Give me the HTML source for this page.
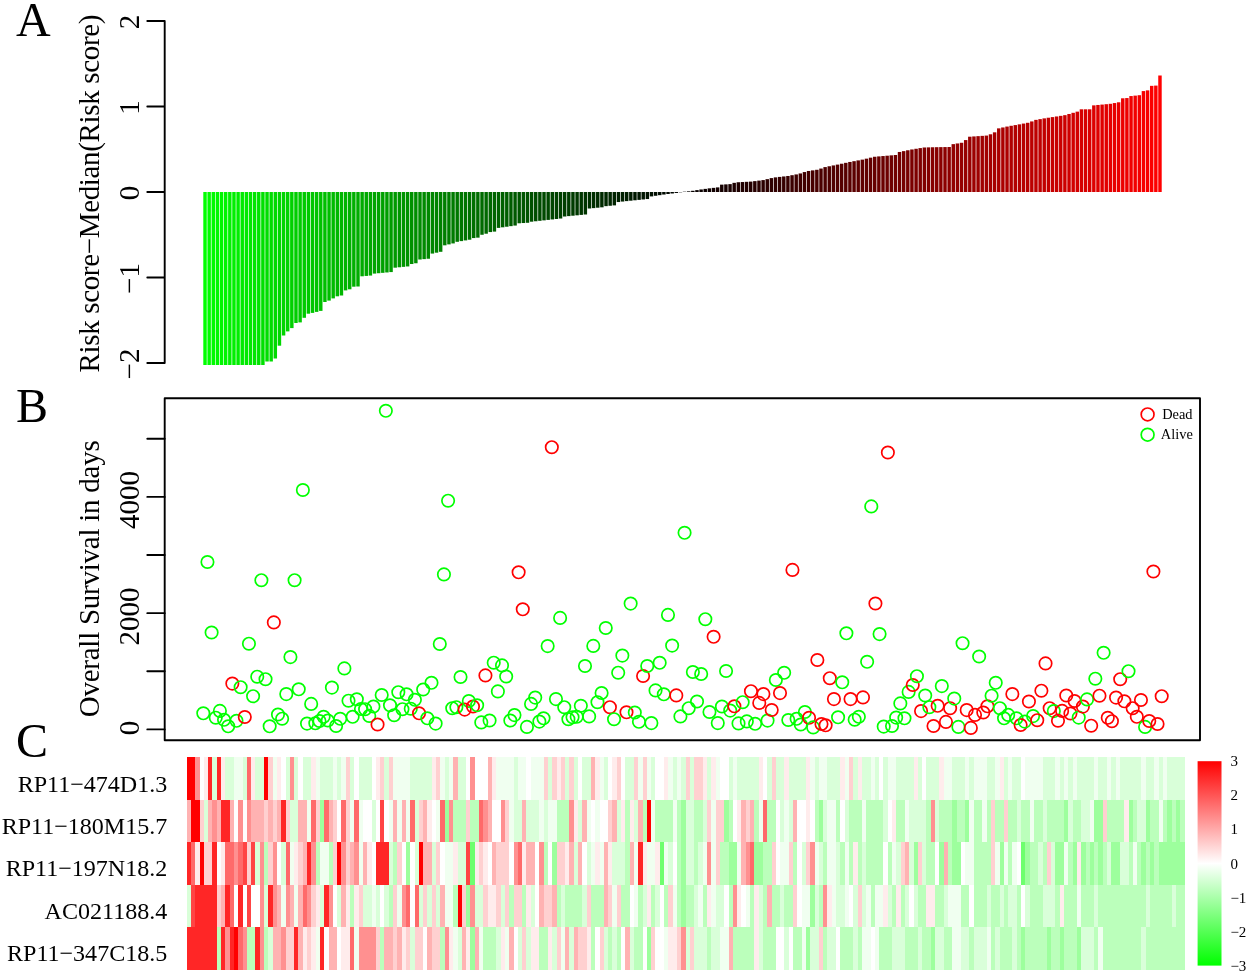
<!DOCTYPE html>
<html lang="en"><head><meta charset="utf-8"><title>Risk score figure</title>
<style>html,body{margin:0;padding:0;background:#fff}svg{display:block}text{font-family:"Liberation Serif","Times New Roman",serif;fill:#000}</style></head>
<body>
<svg width="1250" height="975" viewBox="0 0 1250 975">
<rect width="1250" height="975" fill="#fff"/>
<g id="panelA">
<rect x="203.3" y="192" width="3.45" height="173" fill="#00ff00"/><rect x="207.43" y="192" width="3.45" height="173" fill="#00fd00"/><rect x="211.57" y="192" width="3.45" height="173" fill="#00fb00"/><rect x="215.7" y="192" width="3.45" height="173" fill="#00f800"/><rect x="219.84" y="192" width="3.45" height="173" fill="#00f600"/><rect x="223.97" y="192" width="3.45" height="173" fill="#00f400"/><rect x="228.1" y="192" width="3.45" height="173" fill="#00f200"/><rect x="232.24" y="192" width="3.45" height="173" fill="#00f000"/><rect x="236.37" y="192" width="3.45" height="173" fill="#00ed00"/><rect x="240.51" y="192" width="3.45" height="173" fill="#00eb00"/><rect x="244.64" y="192" width="3.45" height="173" fill="#00e900"/><rect x="248.77" y="192" width="3.45" height="173" fill="#00e700"/><rect x="252.91" y="192" width="3.45" height="173" fill="#00e500"/><rect x="257.04" y="192" width="3.45" height="173" fill="#00e200"/><rect x="261.18" y="192" width="3.45" height="173" fill="#00e000"/><rect x="265.31" y="192" width="3.45" height="169.5" fill="#00de00"/><rect x="269.44" y="192" width="3.45" height="169.5" fill="#00dc00"/><rect x="273.58" y="192" width="3.45" height="166.5" fill="#00d900"/><rect x="277.71" y="192" width="3.45" height="153.7" fill="#00d700"/><rect x="281.85" y="192" width="3.45" height="143.5" fill="#00d500"/><rect x="285.98" y="192" width="3.45" height="139.4" fill="#00d300"/><rect x="290.11" y="192" width="3.45" height="136.1" fill="#00d100"/><rect x="294.25" y="192" width="3.45" height="131" fill="#00ce00"/><rect x="298.38" y="192" width="3.45" height="130.4" fill="#00cc00"/><rect x="302.52" y="192" width="3.45" height="125.8" fill="#00ca00"/><rect x="306.65" y="192" width="3.45" height="121.7" fill="#00c800"/><rect x="310.78" y="192" width="3.45" height="120.9" fill="#00c600"/><rect x="314.92" y="192" width="3.45" height="119.9" fill="#00c300"/><rect x="319.05" y="192" width="3.45" height="118.9" fill="#00c100"/><rect x="323.19" y="192" width="3.45" height="110" fill="#00bf00"/><rect x="327.32" y="192" width="3.45" height="108.6" fill="#00bd00"/><rect x="331.45" y="192" width="3.45" height="106.4" fill="#00bb00"/><rect x="335.59" y="192" width="3.45" height="104.3" fill="#00b800"/><rect x="339.72" y="192" width="3.45" height="103.5" fill="#00b600"/><rect x="343.86" y="192" width="3.45" height="98.4" fill="#00b400"/><rect x="347.99" y="192" width="3.45" height="97.3" fill="#00b200"/><rect x="352.12" y="192" width="3.45" height="94.7" fill="#00b000"/><rect x="356.26" y="192" width="3.45" height="94.5" fill="#00ad00"/><rect x="360.39" y="192" width="3.45" height="84.29" fill="#00ab00"/><rect x="364.53" y="192" width="3.45" height="83.93" fill="#00a900"/><rect x="368.66" y="192" width="3.45" height="83.56" fill="#00a700"/><rect x="372.79" y="192" width="3.45" height="81.6" fill="#00a400"/><rect x="376.93" y="192" width="3.45" height="81.22" fill="#00a200"/><rect x="381.06" y="192" width="3.45" height="80.84" fill="#00a000"/><rect x="385.2" y="192" width="3.45" height="80.46" fill="#009e00"/><rect x="389.33" y="192" width="3.45" height="80.08" fill="#009c00"/><rect x="393.46" y="192" width="3.45" height="75.69" fill="#009900"/><rect x="397.6" y="192" width="3.45" height="75.27" fill="#009700"/><rect x="401.73" y="192" width="3.45" height="74.86" fill="#009500"/><rect x="405.87" y="192" width="3.45" height="74.44" fill="#009300"/><rect x="410" y="192" width="3.45" height="72.02" fill="#009100"/><rect x="414.13" y="192" width="3.45" height="71.26" fill="#008e00"/><rect x="418.27" y="192" width="3.45" height="67.51" fill="#008c00"/><rect x="422.4" y="192" width="3.45" height="67.12" fill="#008a00"/><rect x="426.54" y="192" width="3.45" height="66.74" fill="#008800"/><rect x="430.67" y="192" width="3.45" height="61.57" fill="#008600"/><rect x="434.8" y="192" width="3.45" height="60.69" fill="#008300"/><rect x="438.94" y="192" width="3.45" height="59.81" fill="#008100"/><rect x="443.07" y="192" width="3.45" height="53.32" fill="#007f00"/><rect x="447.21" y="192" width="3.45" height="52.38" fill="#007d00"/><rect x="451.34" y="192" width="3.45" height="51.43" fill="#007b00"/><rect x="455.47" y="192" width="3.45" height="49.81" fill="#007800"/><rect x="459.61" y="192" width="3.45" height="49.11" fill="#007600"/><rect x="463.74" y="192" width="3.45" height="48.41" fill="#007400"/><rect x="467.88" y="192" width="3.45" height="47.71" fill="#007200"/><rect x="472.01" y="192" width="3.45" height="46.07" fill="#006f00"/><rect x="476.14" y="192" width="3.45" height="45.66" fill="#006d00"/><rect x="480.28" y="192" width="3.45" height="42.77" fill="#006b00"/><rect x="484.41" y="192" width="3.45" height="41.72" fill="#006900"/><rect x="488.55" y="192" width="3.45" height="40.07" fill="#006700"/><rect x="492.68" y="192" width="3.45" height="39.6" fill="#006400"/><rect x="496.81" y="192" width="3.45" height="35.89" fill="#006200"/><rect x="500.95" y="192" width="3.45" height="35.31" fill="#006000"/><rect x="505.08" y="192" width="3.45" height="34.73" fill="#005e00"/><rect x="509.22" y="192" width="3.45" height="34.15" fill="#005c00"/><rect x="513.35" y="192" width="3.45" height="33.57" fill="#005900"/><rect x="517.48" y="192" width="3.45" height="31.28" fill="#005700"/><rect x="521.62" y="192" width="3.45" height="31.03" fill="#005500"/><rect x="525.75" y="192" width="3.45" height="30.79" fill="#005300"/><rect x="529.89" y="192" width="3.45" height="29.7" fill="#005100"/><rect x="534.02" y="192" width="3.45" height="29.26" fill="#004e00"/><rect x="538.15" y="192" width="3.45" height="28.81" fill="#004c00"/><rect x="542.29" y="192" width="3.45" height="28.35" fill="#004a00"/><rect x="546.42" y="192" width="3.45" height="27.9" fill="#004800"/><rect x="550.56" y="192" width="3.45" height="27.44" fill="#004600"/><rect x="554.69" y="192" width="3.45" height="26.98" fill="#004300"/><rect x="558.82" y="192" width="3.45" height="26.52" fill="#004100"/><rect x="562.96" y="192" width="3.45" height="24.51" fill="#003f00"/><rect x="567.09" y="192" width="3.45" height="24.11" fill="#003d00"/><rect x="571.23" y="192" width="3.45" height="23.71" fill="#003b00"/><rect x="575.36" y="192" width="3.45" height="23.31" fill="#003800"/><rect x="579.49" y="192" width="3.45" height="22.9" fill="#003600"/><rect x="583.63" y="192" width="3.45" height="22.5" fill="#003400"/><rect x="587.76" y="192" width="3.45" height="16.51" fill="#003200"/><rect x="591.9" y="192" width="3.45" height="16.12" fill="#002f00"/><rect x="596.03" y="192" width="3.45" height="15.72" fill="#002d00"/><rect x="600.16" y="192" width="3.45" height="15.33" fill="#002b00"/><rect x="604.3" y="192" width="3.45" height="14.15" fill="#002900"/><rect x="608.43" y="192" width="3.45" height="13.77" fill="#002700"/><rect x="612.57" y="192" width="3.45" height="13.38" fill="#002400"/><rect x="616.7" y="192" width="3.45" height="10.04" fill="#002200"/><rect x="620.83" y="192" width="3.45" height="9.56" fill="#002000"/><rect x="624.97" y="192" width="3.45" height="9.11" fill="#001e00"/><rect x="629.1" y="192" width="3.45" height="8.7" fill="#001c00"/><rect x="633.24" y="192" width="3.45" height="8.28" fill="#001900"/><rect x="637.37" y="192" width="3.45" height="7.87" fill="#001700"/><rect x="641.5" y="192" width="3.45" height="7.46" fill="#001500"/><rect x="645.64" y="192" width="3.45" height="7.04" fill="#001300"/><rect x="649.77" y="192" width="3.45" height="4.41" fill="#001100"/><rect x="653.91" y="192" width="3.45" height="3.78" fill="#000e00"/><rect x="658.04" y="192" width="3.45" height="3.16" fill="#000c00"/><rect x="662.17" y="192" width="3.45" height="2.54" fill="#000a00"/><rect x="666.31" y="192" width="3.45" height="2" fill="#000800"/><rect x="670.44" y="192" width="3.45" height="1.48" fill="#000600"/><rect x="674.58" y="192" width="3.45" height="0.96" fill="#000300"/><rect x="678.71" y="192" width="3.45" height="0.3" fill="#000100"/><rect x="682.84" y="191.69" width="3.45" height="0.31" fill="#010000"/><rect x="686.98" y="191.34" width="3.45" height="0.66" fill="#030000"/><rect x="691.11" y="190.79" width="3.45" height="1.21" fill="#060000"/><rect x="695.25" y="190.11" width="3.45" height="1.89" fill="#080000"/><rect x="699.38" y="189.45" width="3.45" height="2.55" fill="#0a0000"/><rect x="703.51" y="188.88" width="3.45" height="3.12" fill="#0c0000"/><rect x="707.65" y="188.34" width="3.45" height="3.66" fill="#0e0000"/><rect x="711.78" y="187.86" width="3.45" height="4.14" fill="#110000"/><rect x="715.92" y="187.38" width="3.45" height="4.62" fill="#130000"/><rect x="720.05" y="184.64" width="3.45" height="7.36" fill="#150000"/><rect x="724.18" y="184.38" width="3.45" height="7.62" fill="#170000"/><rect x="728.32" y="184.12" width="3.45" height="7.88" fill="#190000"/><rect x="732.45" y="182.84" width="3.45" height="9.16" fill="#1c0000"/><rect x="736.59" y="182.23" width="3.45" height="9.77" fill="#1e0000"/><rect x="740.72" y="182.03" width="3.45" height="9.97" fill="#200000"/><rect x="744.85" y="181.82" width="3.45" height="10.18" fill="#220000"/><rect x="748.99" y="181.61" width="3.45" height="10.39" fill="#240000"/><rect x="753.12" y="181.12" width="3.45" height="10.88" fill="#270000"/><rect x="757.26" y="180.6" width="3.45" height="11.4" fill="#290000"/><rect x="761.39" y="180.09" width="3.45" height="11.91" fill="#2b0000"/><rect x="765.52" y="179.14" width="3.45" height="12.86" fill="#2d0000"/><rect x="769.66" y="178.1" width="3.45" height="13.9" fill="#2f0000"/><rect x="773.79" y="177.36" width="3.45" height="14.64" fill="#320000"/><rect x="777.93" y="176.91" width="3.45" height="15.09" fill="#340000"/><rect x="782.06" y="176.45" width="3.45" height="15.55" fill="#360000"/><rect x="786.19" y="175.98" width="3.45" height="16.02" fill="#380000"/><rect x="790.33" y="175.2" width="3.45" height="16.8" fill="#3b0000"/><rect x="794.46" y="174.43" width="3.45" height="17.57" fill="#3d0000"/><rect x="798.6" y="173.45" width="3.45" height="18.55" fill="#3f0000"/><rect x="802.73" y="172.06" width="3.45" height="19.94" fill="#410000"/><rect x="806.86" y="170.97" width="3.45" height="21.03" fill="#430000"/><rect x="811" y="170.38" width="3.45" height="21.62" fill="#460000"/><rect x="815.13" y="169.79" width="3.45" height="22.21" fill="#480000"/><rect x="819.27" y="168.55" width="3.45" height="23.45" fill="#4a0000"/><rect x="823.4" y="167.09" width="3.45" height="24.91" fill="#4c0000"/><rect x="827.53" y="166.26" width="3.45" height="25.74" fill="#4e0000"/><rect x="831.67" y="165.43" width="3.45" height="26.57" fill="#510000"/><rect x="835.8" y="164.6" width="3.45" height="27.4" fill="#530000"/><rect x="839.94" y="163.73" width="3.45" height="28.27" fill="#550000"/><rect x="844.07" y="162.84" width="3.45" height="29.16" fill="#570000"/><rect x="848.2" y="161.96" width="3.45" height="30.04" fill="#590000"/><rect x="852.34" y="161.18" width="3.45" height="30.82" fill="#5c0000"/><rect x="856.47" y="160.4" width="3.45" height="31.6" fill="#5e0000"/><rect x="860.61" y="159.63" width="3.45" height="32.37" fill="#600000"/><rect x="864.74" y="158.67" width="3.45" height="33.33" fill="#620000"/><rect x="868.87" y="157.67" width="3.45" height="34.33" fill="#640000"/><rect x="873.01" y="156.75" width="3.45" height="35.25" fill="#670000"/><rect x="877.14" y="156.4" width="3.45" height="35.6" fill="#690000"/><rect x="881.28" y="156.05" width="3.45" height="35.95" fill="#6b0000"/><rect x="885.41" y="155.7" width="3.45" height="36.3" fill="#6d0000"/><rect x="889.54" y="155.35" width="3.45" height="36.65" fill="#6f0000"/><rect x="893.68" y="155" width="3.45" height="37" fill="#720000"/><rect x="897.81" y="151.97" width="3.45" height="40.03" fill="#740000"/><rect x="901.95" y="151.12" width="3.45" height="40.88" fill="#760000"/><rect x="906.08" y="150.26" width="3.45" height="41.74" fill="#780000"/><rect x="910.21" y="149.45" width="3.45" height="42.55" fill="#7b0000"/><rect x="914.35" y="148.77" width="3.45" height="43.23" fill="#7d0000"/><rect x="918.48" y="148.09" width="3.45" height="43.91" fill="#7f0000"/><rect x="922.62" y="147.49" width="3.45" height="44.51" fill="#810000"/><rect x="926.75" y="147.37" width="3.45" height="44.63" fill="#830000"/><rect x="930.88" y="147.26" width="3.45" height="44.74" fill="#860000"/><rect x="935.02" y="147.18" width="3.45" height="44.82" fill="#880000"/><rect x="939.15" y="147.12" width="3.45" height="44.88" fill="#8a0000"/><rect x="943.29" y="147.07" width="3.45" height="44.93" fill="#8c0000"/><rect x="947.42" y="147.01" width="3.45" height="44.99" fill="#8e0000"/><rect x="951.55" y="144.14" width="3.45" height="47.86" fill="#910000"/><rect x="955.69" y="143.46" width="3.45" height="48.54" fill="#930000"/><rect x="959.82" y="142.77" width="3.45" height="49.23" fill="#950000"/><rect x="963.96" y="140.08" width="3.45" height="51.92" fill="#970000"/><rect x="968.09" y="136.7" width="3.45" height="55.3" fill="#990000"/><rect x="972.22" y="136.42" width="3.45" height="55.58" fill="#9c0000"/><rect x="976.36" y="136.14" width="3.45" height="55.86" fill="#9e0000"/><rect x="980.49" y="135.86" width="3.45" height="56.14" fill="#a00000"/><rect x="984.63" y="135.58" width="3.45" height="56.42" fill="#a20000"/><rect x="988.76" y="134.29" width="3.45" height="57.71" fill="#a40000"/><rect x="992.89" y="132.33" width="3.45" height="59.67" fill="#a70000"/><rect x="997.03" y="128.36" width="3.45" height="63.64" fill="#a90000"/><rect x="1001.16" y="127.46" width="3.45" height="64.54" fill="#ab0000"/><rect x="1005.3" y="126.57" width="3.45" height="65.43" fill="#ad0000"/><rect x="1009.43" y="125.79" width="3.45" height="66.21" fill="#b00000"/><rect x="1013.56" y="125.09" width="3.45" height="66.91" fill="#b20000"/><rect x="1017.7" y="124.34" width="3.45" height="67.66" fill="#b40000"/><rect x="1021.83" y="123.57" width="3.45" height="68.43" fill="#b60000"/><rect x="1025.97" y="122.79" width="3.45" height="69.21" fill="#b80000"/><rect x="1030.1" y="121.43" width="3.45" height="70.57" fill="#bb0000"/><rect x="1034.23" y="119.86" width="3.45" height="72.14" fill="#bd0000"/><rect x="1038.37" y="119.12" width="3.45" height="72.88" fill="#bf0000"/><rect x="1042.5" y="118.37" width="3.45" height="73.63" fill="#c10000"/><rect x="1046.64" y="117.72" width="3.45" height="74.28" fill="#c30000"/><rect x="1050.77" y="117.1" width="3.45" height="74.9" fill="#c60000"/><rect x="1054.9" y="116.47" width="3.45" height="75.53" fill="#c80000"/><rect x="1059.04" y="115.85" width="3.45" height="76.15" fill="#ca0000"/><rect x="1063.17" y="115.16" width="3.45" height="76.84" fill="#cc0000"/><rect x="1067.31" y="113.99" width="3.45" height="78.01" fill="#ce0000"/><rect x="1071.44" y="112.81" width="3.45" height="79.19" fill="#d10000"/><rect x="1075.57" y="111.64" width="3.45" height="80.36" fill="#d30000"/><rect x="1079.71" y="109.3" width="3.45" height="82.7" fill="#d50000"/><rect x="1083.84" y="109.3" width="3.45" height="82.7" fill="#d70000"/><rect x="1087.98" y="109.3" width="3.45" height="82.7" fill="#d90000"/><rect x="1092.11" y="105.36" width="3.45" height="86.64" fill="#dc0000"/><rect x="1096.24" y="104.97" width="3.45" height="87.03" fill="#de0000"/><rect x="1100.38" y="104.58" width="3.45" height="87.42" fill="#e00000"/><rect x="1104.51" y="104.2" width="3.45" height="87.8" fill="#e20000"/><rect x="1108.65" y="103.81" width="3.45" height="88.19" fill="#e50000"/><rect x="1112.78" y="103.06" width="3.45" height="88.94" fill="#e70000"/><rect x="1116.91" y="102.29" width="3.45" height="89.71" fill="#e90000"/><rect x="1121.05" y="98.3" width="3.45" height="93.7" fill="#eb0000"/><rect x="1125.18" y="98.05" width="3.45" height="93.95" fill="#ed0000"/><rect x="1129.32" y="96.05" width="3.45" height="95.95" fill="#f00000"/><rect x="1133.45" y="95.63" width="3.45" height="96.37" fill="#f20000"/><rect x="1137.58" y="95.2" width="3.45" height="96.8" fill="#f40000"/><rect x="1141.72" y="91.08" width="3.45" height="100.92" fill="#f60000"/><rect x="1145.85" y="90.36" width="3.45" height="101.64" fill="#f80000"/><rect x="1149.99" y="85.85" width="3.45" height="106.15" fill="#fb0000"/><rect x="1154.12" y="85.6" width="3.45" height="106.4" fill="#fd0000"/><rect x="1158.25" y="75.5" width="3.45" height="116.5" fill="#ff0000"/>
<g stroke="#000" stroke-width="1.9" stroke-linecap="round" stroke-linejoin="round" fill="none"><path d="M164.7 21V363M164.7 363H147.3M164.7 277.5H147.3M164.7 192H147.3M164.7 106.5H147.3M164.7 21H147.3"/></g>
<text font-size="29" text-anchor="middle" transform="translate(138.6 364) rotate(-90)">−2</text><text font-size="29" text-anchor="middle" transform="translate(138.6 278.5) rotate(-90)">−1</text><text font-size="29" text-anchor="middle" transform="translate(138.6 193) rotate(-90)">0</text><text font-size="29" text-anchor="middle" transform="translate(138.6 107.5) rotate(-90)">1</text><text font-size="29" text-anchor="middle" transform="translate(138.6 22) rotate(-90)">2</text>
<text font-size="29" text-anchor="middle" textLength="358" transform="translate(98.8 193.5) rotate(-90)">Risk score−Median(Risk score)</text>
<text font-size="48" x="16.1" y="35.5">A</text>
</g>
<g id="panelB">
<g stroke="#000" stroke-width="1.9" stroke-linecap="round" stroke-linejoin="round" fill="none"><rect x="164.7" y="398.3" width="1035.3" height="341.9"/><path d="M164.7 729.4H147.3M164.7 671.28H147.3M164.7 613.16H147.3M164.7 555.04H147.3M164.7 496.92H147.3M164.7 438.8H147.3"/></g>
<text font-size="29" text-anchor="middle" transform="translate(138.6 728) rotate(-90)">0</text><text font-size="29" text-anchor="middle" transform="translate(138.6 616.56) rotate(-90)">2000</text><text font-size="29" text-anchor="middle" transform="translate(138.6 500.02) rotate(-90)">4000</text>
<text font-size="29" text-anchor="middle" textLength="277" transform="translate(98.8 578.8) rotate(-90)">Overall Survival in days</text>
<text font-size="48" x="16.1" y="421.8">B</text>
<g fill="none" stroke-width="1.7">
<circle cx="203.3" cy="713.3" r="6.2" stroke="#0f0"/><circle cx="207.45" cy="562" r="6.2" stroke="#0f0"/><circle cx="211.6" cy="632.5" r="6.2" stroke="#0f0"/><circle cx="215.75" cy="717.7" r="6.2" stroke="#0f0"/><circle cx="219.9" cy="710.9" r="6.2" stroke="#0f0"/><circle cx="224.04" cy="719.8" r="6.2" stroke="#0f0"/><circle cx="228.19" cy="726.3" r="6.2" stroke="#0f0"/><circle cx="232.34" cy="683.6" r="6.2" stroke="#f00"/><circle cx="236.49" cy="720.8" r="6.2" stroke="#0f0"/><circle cx="240.64" cy="687.2" r="6.2" stroke="#0f0"/><circle cx="244.79" cy="717" r="6.2" stroke="#f00"/><circle cx="248.94" cy="643.7" r="6.2" stroke="#0f0"/><circle cx="253.09" cy="696.2" r="6.2" stroke="#0f0"/><circle cx="257.24" cy="676.7" r="6.2" stroke="#0f0"/><circle cx="261.38" cy="580.2" r="6.2" stroke="#0f0"/><circle cx="265.53" cy="679.2" r="6.2" stroke="#0f0"/><circle cx="269.68" cy="726.3" r="6.2" stroke="#0f0"/><circle cx="273.83" cy="622.4" r="6.2" stroke="#f00"/><circle cx="277.98" cy="714.5" r="6.2" stroke="#0f0"/><circle cx="282.13" cy="718.7" r="6.2" stroke="#0f0"/><circle cx="286.28" cy="694.1" r="6.2" stroke="#0f0"/><circle cx="290.43" cy="657.1" r="6.2" stroke="#0f0"/><circle cx="294.58" cy="580.2" r="6.2" stroke="#0f0"/><circle cx="298.73" cy="689.3" r="6.2" stroke="#0f0"/><circle cx="302.87" cy="490" r="6.2" stroke="#0f0"/><circle cx="307.02" cy="723.6" r="6.2" stroke="#0f0"/><circle cx="311.17" cy="703.9" r="6.2" stroke="#0f0"/><circle cx="315.32" cy="723.3" r="6.2" stroke="#0f0"/><circle cx="319.47" cy="721" r="6.2" stroke="#0f0"/><circle cx="323.62" cy="716.8" r="6.2" stroke="#0f0"/><circle cx="327.77" cy="720.5" r="6.2" stroke="#0f0"/><circle cx="331.92" cy="687.6" r="6.2" stroke="#0f0"/><circle cx="336.07" cy="726" r="6.2" stroke="#0f0"/><circle cx="340.21" cy="718.8" r="6.2" stroke="#0f0"/><circle cx="344.36" cy="668.4" r="6.2" stroke="#0f0"/><circle cx="348.51" cy="700.7" r="6.2" stroke="#0f0"/><circle cx="352.66" cy="716.8" r="6.2" stroke="#0f0"/><circle cx="356.81" cy="699.3" r="6.2" stroke="#0f0"/><circle cx="360.96" cy="709" r="6.2" stroke="#0f0"/><circle cx="365.11" cy="709.2" r="6.2" stroke="#0f0"/><circle cx="369.26" cy="715.9" r="6.2" stroke="#0f0"/><circle cx="373.41" cy="706.5" r="6.2" stroke="#0f0"/><circle cx="377.55" cy="724.5" r="6.2" stroke="#f00"/><circle cx="381.7" cy="695" r="6.2" stroke="#0f0"/><circle cx="385.85" cy="410.8" r="6.2" stroke="#0f0"/><circle cx="390" cy="705.3" r="6.2" stroke="#0f0"/><circle cx="394.15" cy="715.2" r="6.2" stroke="#0f0"/><circle cx="398.3" cy="692.2" r="6.2" stroke="#0f0"/><circle cx="402.45" cy="709.2" r="6.2" stroke="#0f0"/><circle cx="406.6" cy="694.3" r="6.2" stroke="#0f0"/><circle cx="410.75" cy="708.7" r="6.2" stroke="#0f0"/><circle cx="414.89" cy="699.8" r="6.2" stroke="#0f0"/><circle cx="419.04" cy="713.3" r="6.2" stroke="#f00"/><circle cx="423.19" cy="689.5" r="6.2" stroke="#0f0"/><circle cx="427.34" cy="718.3" r="6.2" stroke="#0f0"/><circle cx="431.49" cy="682.8" r="6.2" stroke="#0f0"/><circle cx="435.64" cy="723.6" r="6.2" stroke="#0f0"/><circle cx="439.79" cy="644" r="6.2" stroke="#0f0"/><circle cx="443.94" cy="574.4" r="6.2" stroke="#0f0"/><circle cx="448.09" cy="500.7" r="6.2" stroke="#0f0"/><circle cx="452.24" cy="708.2" r="6.2" stroke="#0f0"/><circle cx="456.38" cy="707.2" r="6.2" stroke="#0f0"/><circle cx="460.53" cy="677" r="6.2" stroke="#0f0"/><circle cx="464.68" cy="709.6" r="6.2" stroke="#f00"/><circle cx="468.83" cy="701" r="6.2" stroke="#0f0"/><circle cx="472.98" cy="706.5" r="6.2" stroke="#f00"/><circle cx="477.13" cy="705.3" r="6.2" stroke="#0f0"/><circle cx="481.28" cy="722.4" r="6.2" stroke="#0f0"/><circle cx="485.43" cy="675.4" r="6.2" stroke="#f00"/><circle cx="489.58" cy="720.5" r="6.2" stroke="#0f0"/><circle cx="493.72" cy="662.7" r="6.2" stroke="#0f0"/><circle cx="497.87" cy="691.4" r="6.2" stroke="#0f0"/><circle cx="502.02" cy="665.4" r="6.2" stroke="#0f0"/><circle cx="506.17" cy="676.5" r="6.2" stroke="#0f0"/><circle cx="510.32" cy="720.5" r="6.2" stroke="#0f0"/><circle cx="514.47" cy="715.1" r="6.2" stroke="#0f0"/><circle cx="518.62" cy="572.3" r="6.2" stroke="#f00"/><circle cx="522.77" cy="609.3" r="6.2" stroke="#f00"/><circle cx="526.92" cy="726.9" r="6.2" stroke="#0f0"/><circle cx="531.06" cy="703.9" r="6.2" stroke="#0f0"/><circle cx="535.21" cy="697.6" r="6.2" stroke="#0f0"/><circle cx="539.36" cy="721.6" r="6.2" stroke="#0f0"/><circle cx="543.51" cy="718.3" r="6.2" stroke="#0f0"/><circle cx="547.66" cy="646.1" r="6.2" stroke="#0f0"/><circle cx="551.81" cy="447.2" r="6.2" stroke="#f00"/><circle cx="555.96" cy="699.1" r="6.2" stroke="#0f0"/><circle cx="560.11" cy="617.9" r="6.2" stroke="#0f0"/><circle cx="564.26" cy="707.2" r="6.2" stroke="#0f0"/><circle cx="568.4" cy="719.2" r="6.2" stroke="#0f0"/><circle cx="572.55" cy="717.3" r="6.2" stroke="#0f0"/><circle cx="576.7" cy="716.8" r="6.2" stroke="#0f0"/><circle cx="580.85" cy="705.8" r="6.2" stroke="#0f0"/><circle cx="585" cy="666" r="6.2" stroke="#0f0"/><circle cx="589.15" cy="716.4" r="6.2" stroke="#0f0"/><circle cx="593.3" cy="645.9" r="6.2" stroke="#0f0"/><circle cx="597.45" cy="702.2" r="6.2" stroke="#0f0"/><circle cx="601.6" cy="693" r="6.2" stroke="#0f0"/><circle cx="605.75" cy="628" r="6.2" stroke="#0f0"/><circle cx="609.89" cy="707.2" r="6.2" stroke="#f00"/><circle cx="614.04" cy="719.2" r="6.2" stroke="#0f0"/><circle cx="618.19" cy="672.7" r="6.2" stroke="#0f0"/><circle cx="622.34" cy="655.6" r="6.2" stroke="#0f0"/><circle cx="626.49" cy="712.3" r="6.2" stroke="#f00"/><circle cx="630.64" cy="603.6" r="6.2" stroke="#0f0"/><circle cx="634.79" cy="712.5" r="6.2" stroke="#0f0"/><circle cx="638.94" cy="721.8" r="6.2" stroke="#0f0"/><circle cx="643.09" cy="676" r="6.2" stroke="#f00"/><circle cx="647.23" cy="666" r="6.2" stroke="#0f0"/><circle cx="651.38" cy="723.1" r="6.2" stroke="#0f0"/><circle cx="655.53" cy="690.4" r="6.2" stroke="#0f0"/><circle cx="659.68" cy="662.8" r="6.2" stroke="#0f0"/><circle cx="663.83" cy="694.3" r="6.2" stroke="#0f0"/><circle cx="667.98" cy="614.9" r="6.2" stroke="#0f0"/><circle cx="672.13" cy="645.6" r="6.2" stroke="#0f0"/><circle cx="676.28" cy="695.4" r="6.2" stroke="#f00"/><circle cx="680.43" cy="716.4" r="6.2" stroke="#0f0"/><circle cx="684.57" cy="532.8" r="6.2" stroke="#0f0"/><circle cx="688.72" cy="708.2" r="6.2" stroke="#0f0"/><circle cx="692.87" cy="672" r="6.2" stroke="#0f0"/><circle cx="697.02" cy="701.5" r="6.2" stroke="#0f0"/><circle cx="701.17" cy="674" r="6.2" stroke="#0f0"/><circle cx="705.32" cy="619.2" r="6.2" stroke="#0f0"/><circle cx="709.47" cy="712" r="6.2" stroke="#0f0"/><circle cx="713.62" cy="636.8" r="6.2" stroke="#f00"/><circle cx="717.77" cy="723.1" r="6.2" stroke="#0f0"/><circle cx="721.91" cy="706.5" r="6.2" stroke="#0f0"/><circle cx="726.06" cy="671" r="6.2" stroke="#0f0"/><circle cx="730.21" cy="710.6" r="6.2" stroke="#0f0"/><circle cx="734.36" cy="706.3" r="6.2" stroke="#f00"/><circle cx="738.51" cy="723.4" r="6.2" stroke="#0f0"/><circle cx="742.66" cy="702.2" r="6.2" stroke="#0f0"/><circle cx="746.81" cy="721.4" r="6.2" stroke="#0f0"/><circle cx="750.96" cy="691.2" r="6.2" stroke="#f00"/><circle cx="755.11" cy="723.8" r="6.2" stroke="#0f0"/><circle cx="759.25" cy="702.9" r="6.2" stroke="#f00"/><circle cx="763.4" cy="694.1" r="6.2" stroke="#f00"/><circle cx="767.55" cy="720.6" r="6.2" stroke="#0f0"/><circle cx="771.7" cy="710" r="6.2" stroke="#f00"/><circle cx="775.85" cy="680" r="6.2" stroke="#0f0"/><circle cx="780" cy="693.1" r="6.2" stroke="#f00"/><circle cx="784.15" cy="672.8" r="6.2" stroke="#0f0"/><circle cx="788.3" cy="720" r="6.2" stroke="#0f0"/><circle cx="792.45" cy="569.9" r="6.2" stroke="#f00"/><circle cx="796.6" cy="718.8" r="6.2" stroke="#0f0"/><circle cx="800.74" cy="724.5" r="6.2" stroke="#0f0"/><circle cx="804.89" cy="712" r="6.2" stroke="#0f0"/><circle cx="809.04" cy="717.8" r="6.2" stroke="#f00"/><circle cx="813.19" cy="727.4" r="6.2" stroke="#0f0"/><circle cx="817.34" cy="660" r="6.2" stroke="#f00"/><circle cx="821.49" cy="724" r="6.2" stroke="#f00"/><circle cx="825.64" cy="725.3" r="6.2" stroke="#f00"/><circle cx="829.79" cy="678.2" r="6.2" stroke="#f00"/><circle cx="833.94" cy="699.1" r="6.2" stroke="#f00"/><circle cx="838.08" cy="717.3" r="6.2" stroke="#0f0"/><circle cx="842.23" cy="682.3" r="6.2" stroke="#0f0"/><circle cx="846.38" cy="633.3" r="6.2" stroke="#0f0"/><circle cx="850.53" cy="699.1" r="6.2" stroke="#f00"/><circle cx="854.68" cy="719.7" r="6.2" stroke="#0f0"/><circle cx="858.83" cy="716.8" r="6.2" stroke="#0f0"/><circle cx="862.98" cy="697.4" r="6.2" stroke="#f00"/><circle cx="867.13" cy="661.8" r="6.2" stroke="#0f0"/><circle cx="871.28" cy="506.4" r="6.2" stroke="#0f0"/><circle cx="875.42" cy="603.5" r="6.2" stroke="#f00"/><circle cx="879.57" cy="634.1" r="6.2" stroke="#0f0"/><circle cx="883.72" cy="726.6" r="6.2" stroke="#0f0"/><circle cx="887.87" cy="452.5" r="6.2" stroke="#f00"/><circle cx="892.02" cy="726" r="6.2" stroke="#0f0"/><circle cx="896.17" cy="717.6" r="6.2" stroke="#0f0"/><circle cx="900.32" cy="703.4" r="6.2" stroke="#0f0"/><circle cx="904.47" cy="718.3" r="6.2" stroke="#0f0"/><circle cx="908.62" cy="691.9" r="6.2" stroke="#0f0"/><circle cx="912.76" cy="685" r="6.2" stroke="#f00"/><circle cx="916.91" cy="676.2" r="6.2" stroke="#0f0"/><circle cx="921.06" cy="711.1" r="6.2" stroke="#f00"/><circle cx="925.21" cy="695.5" r="6.2" stroke="#0f0"/><circle cx="929.36" cy="707.2" r="6.2" stroke="#0f0"/><circle cx="933.51" cy="726" r="6.2" stroke="#f00"/><circle cx="937.66" cy="705.8" r="6.2" stroke="#f00"/><circle cx="941.81" cy="686.1" r="6.2" stroke="#0f0"/><circle cx="945.96" cy="721.9" r="6.2" stroke="#f00"/><circle cx="950.11" cy="708.2" r="6.2" stroke="#f00"/><circle cx="954.25" cy="698.6" r="6.2" stroke="#0f0"/><circle cx="958.4" cy="726.9" r="6.2" stroke="#0f0"/><circle cx="962.55" cy="643.2" r="6.2" stroke="#0f0"/><circle cx="966.7" cy="710.1" r="6.2" stroke="#f00"/><circle cx="970.85" cy="727.9" r="6.2" stroke="#f00"/><circle cx="975" cy="714.9" r="6.2" stroke="#f00"/><circle cx="979.15" cy="656.5" r="6.2" stroke="#0f0"/><circle cx="983.3" cy="712.5" r="6.2" stroke="#f00"/><circle cx="987.45" cy="706.3" r="6.2" stroke="#f00"/><circle cx="991.59" cy="695.7" r="6.2" stroke="#0f0"/><circle cx="995.74" cy="682.8" r="6.2" stroke="#0f0"/><circle cx="999.89" cy="708.2" r="6.2" stroke="#0f0"/><circle cx="1004.04" cy="718.3" r="6.2" stroke="#0f0"/><circle cx="1008.19" cy="714.9" r="6.2" stroke="#0f0"/><circle cx="1012.34" cy="694.1" r="6.2" stroke="#f00"/><circle cx="1016.49" cy="718.3" r="6.2" stroke="#0f0"/><circle cx="1020.64" cy="725" r="6.2" stroke="#f00"/><circle cx="1024.79" cy="721.6" r="6.2" stroke="#0f0"/><circle cx="1028.93" cy="701.5" r="6.2" stroke="#f00"/><circle cx="1033.08" cy="716.1" r="6.2" stroke="#0f0"/><circle cx="1037.23" cy="720.2" r="6.2" stroke="#f00"/><circle cx="1041.38" cy="690.7" r="6.2" stroke="#f00"/><circle cx="1045.53" cy="663.4" r="6.2" stroke="#f00"/><circle cx="1049.68" cy="708.2" r="6.2" stroke="#f00"/><circle cx="1053.83" cy="711.1" r="6.2" stroke="#0f0"/><circle cx="1057.98" cy="720.7" r="6.2" stroke="#f00"/><circle cx="1062.13" cy="710.9" r="6.2" stroke="#f00"/><circle cx="1066.27" cy="695.5" r="6.2" stroke="#f00"/><circle cx="1070.42" cy="713.5" r="6.2" stroke="#f00"/><circle cx="1074.57" cy="701" r="6.2" stroke="#f00"/><circle cx="1078.72" cy="717.6" r="6.2" stroke="#0f0"/><circle cx="1082.87" cy="706.6" r="6.2" stroke="#f00"/><circle cx="1087.02" cy="699.4" r="6.2" stroke="#0f0"/><circle cx="1091.17" cy="725.7" r="6.2" stroke="#f00"/><circle cx="1095.32" cy="678.7" r="6.2" stroke="#0f0"/><circle cx="1099.47" cy="695.7" r="6.2" stroke="#f00"/><circle cx="1103.62" cy="652.8" r="6.2" stroke="#0f0"/><circle cx="1107.76" cy="717.8" r="6.2" stroke="#f00"/><circle cx="1111.91" cy="721.2" r="6.2" stroke="#f00"/><circle cx="1116.06" cy="697.6" r="6.2" stroke="#f00"/><circle cx="1120.21" cy="679.2" r="6.2" stroke="#f00"/><circle cx="1124.36" cy="701.3" r="6.2" stroke="#f00"/><circle cx="1128.51" cy="671.2" r="6.2" stroke="#0f0"/><circle cx="1132.66" cy="708.2" r="6.2" stroke="#f00"/><circle cx="1136.81" cy="716.8" r="6.2" stroke="#f00"/><circle cx="1140.96" cy="700" r="6.2" stroke="#f00"/><circle cx="1145.1" cy="726.9" r="6.2" stroke="#0f0"/><circle cx="1149.25" cy="721" r="6.2" stroke="#f00"/><circle cx="1153.4" cy="571.5" r="6.2" stroke="#f00"/><circle cx="1157.55" cy="724" r="6.2" stroke="#f00"/><circle cx="1161.7" cy="696.2" r="6.2" stroke="#f00"/>
<circle cx="1147.6" cy="414.4" r="6.4" stroke="#f00"/><circle cx="1147.6" cy="434.7" r="6.4" stroke="#0f0"/></g>
<text font-size="14.4" x="1162.2" y="419.3">Dead</text><text font-size="14.4" x="1160.8" y="439">Alive</text>
</g>
<g id="panelC">
<text font-size="48" x="16.1" y="757.3">C</text>
<g shape-rendering="crispEdges">
<rect x="186.6" y="757" width="9" height="42.98" fill="#ff0000"/><rect x="195.2" y="757" width="4.7" height="42.98" fill="#ff9090"/><rect x="199.5" y="757" width="4.7" height="42.98" fill="#ffffff"/><rect x="203.81" y="757" width="4.7" height="42.98" fill="#ffecec"/><rect x="208.11" y="757" width="4.7" height="42.98" fill="#ff2626"/><rect x="212.41" y="757" width="4.7" height="42.98" fill="#d9ffd9"/><rect x="216.71" y="757" width="4.7" height="42.98" fill="#ff2626"/><rect x="221.01" y="757" width="4.7" height="42.98" fill="#ffecec"/><rect x="225.31" y="757" width="9" height="42.98" fill="#d9ffd9"/><rect x="233.91" y="757" width="9" height="42.98" fill="#f0fff0"/><rect x="242.52" y="757" width="4.7" height="42.98" fill="#d9ffd9"/><rect x="246.82" y="757" width="4.7" height="42.98" fill="#ff6a6a"/><rect x="251.12" y="757" width="4.7" height="42.98" fill="#ffecec"/><rect x="255.42" y="757" width="9" height="42.98" fill="#d9ffd9"/><rect x="264.02" y="757" width="4.7" height="42.98" fill="#ff0000"/><rect x="268.32" y="757" width="4.7" height="42.98" fill="#ffd0d0"/><rect x="272.63" y="757" width="4.7" height="42.98" fill="#f0fff0"/><rect x="276.93" y="757" width="4.7" height="42.98" fill="#ffecec"/><rect x="281.23" y="757" width="4.7" height="42.98" fill="#ffffff"/><rect x="285.53" y="757" width="4.7" height="42.98" fill="#d9ffd9"/><rect x="289.83" y="757" width="4.7" height="42.98" fill="#ff9090"/><rect x="294.13" y="757" width="4.7" height="42.98" fill="#d9ffd9"/><rect x="298.43" y="757" width="4.7" height="42.98" fill="#ffffff"/><rect x="302.73" y="757" width="9" height="42.98" fill="#d9ffd9"/><rect x="311.34" y="757" width="4.7" height="42.98" fill="#ffecec"/><rect x="315.64" y="757" width="4.7" height="42.98" fill="#f0fff0"/><rect x="319.94" y="757" width="13.3" height="42.98" fill="#d9ffd9"/><rect x="332.84" y="757" width="4.7" height="42.98" fill="#f0fff0"/><rect x="337.15" y="757" width="4.7" height="42.98" fill="#d9ffd9"/><rect x="341.45" y="757" width="4.7" height="42.98" fill="#f0fff0"/><rect x="345.75" y="757" width="4.7" height="42.98" fill="#ffd0d0"/><rect x="350.05" y="757" width="4.7" height="42.98" fill="#d9ffd9"/><rect x="354.35" y="757" width="4.7" height="42.98" fill="#ffffff"/><rect x="358.65" y="757" width="13.3" height="42.98" fill="#d9ffd9"/><rect x="371.56" y="757" width="4.7" height="42.98" fill="#ffffff"/><rect x="375.86" y="757" width="4.7" height="42.98" fill="#ffecec"/><rect x="380.16" y="757" width="4.7" height="42.98" fill="#ffd0d0"/><rect x="384.46" y="757" width="4.7" height="42.98" fill="#d9ffd9"/><rect x="388.76" y="757" width="4.7" height="42.98" fill="#ffd0d0"/><rect x="393.06" y="757" width="17.61" height="42.98" fill="#f0fff0"/><rect x="410.27" y="757" width="21.91" height="42.98" fill="#d9ffd9"/><rect x="431.77" y="757" width="4.7" height="42.98" fill="#ffecec"/><rect x="436.07" y="757" width="4.7" height="42.98" fill="#ffd0d0"/><rect x="440.38" y="757" width="4.7" height="42.98" fill="#f0fff0"/><rect x="444.68" y="757" width="4.7" height="42.98" fill="#d9ffd9"/><rect x="448.98" y="757" width="4.7" height="42.98" fill="#f0fff0"/><rect x="453.28" y="757" width="4.7" height="42.98" fill="#ffb2b2"/><rect x="457.58" y="757" width="9" height="42.98" fill="#d9ffd9"/><rect x="466.18" y="757" width="4.7" height="42.98" fill="#ffffff"/><rect x="470.49" y="757" width="4.7" height="42.98" fill="#ff9090"/><rect x="474.79" y="757" width="13.3" height="42.98" fill="#ffffff"/><rect x="487.69" y="757" width="4.7" height="42.98" fill="#ffb2b2"/><rect x="491.99" y="757" width="4.7" height="42.98" fill="#ffecec"/><rect x="496.29" y="757" width="17.61" height="42.98" fill="#f0fff0"/><rect x="513.5" y="757" width="4.7" height="42.98" fill="#d9ffd9"/><rect x="517.8" y="757" width="9" height="42.98" fill="#f0fff0"/><rect x="526.4" y="757" width="4.7" height="42.98" fill="#ffffff"/><rect x="530.7" y="757" width="13.3" height="42.98" fill="#f0fff0"/><rect x="543.61" y="757" width="4.7" height="42.98" fill="#ffd0d0"/><rect x="547.91" y="757" width="4.7" height="42.98" fill="#d9ffd9"/><rect x="552.21" y="757" width="4.7" height="42.98" fill="#ffd0d0"/><rect x="556.51" y="757" width="4.7" height="42.98" fill="#ffecec"/><rect x="560.81" y="757" width="4.7" height="42.98" fill="#ffd0d0"/><rect x="565.11" y="757" width="4.7" height="42.98" fill="#d9ffd9"/><rect x="569.42" y="757" width="4.7" height="42.98" fill="#ffd0d0"/><rect x="573.72" y="757" width="4.7" height="42.98" fill="#d9ffd9"/><rect x="578.02" y="757" width="4.7" height="42.98" fill="#ffffff"/><rect x="582.32" y="757" width="9" height="42.98" fill="#d9ffd9"/><rect x="590.92" y="757" width="4.7" height="42.98" fill="#ffb2b2"/><rect x="595.22" y="757" width="4.7" height="42.98" fill="#ffecec"/><rect x="599.52" y="757" width="4.7" height="42.98" fill="#f0fff0"/><rect x="603.83" y="757" width="4.7" height="42.98" fill="#d9ffd9"/><rect x="608.13" y="757" width="4.7" height="42.98" fill="#ffffff"/><rect x="612.43" y="757" width="4.7" height="42.98" fill="#ffecec"/><rect x="616.73" y="757" width="4.7" height="42.98" fill="#ffd0d0"/><rect x="621.03" y="757" width="4.7" height="42.98" fill="#ffffff"/><rect x="625.33" y="757" width="9" height="42.98" fill="#d9ffd9"/><rect x="633.93" y="757" width="4.7" height="42.98" fill="#ffd0d0"/><rect x="638.24" y="757" width="4.7" height="42.98" fill="#f0fff0"/><rect x="642.54" y="757" width="4.7" height="42.98" fill="#ffd0d0"/><rect x="646.84" y="757" width="4.7" height="42.98" fill="#f0fff0"/><rect x="651.14" y="757" width="4.7" height="42.98" fill="#d9ffd9"/><rect x="655.44" y="757" width="9" height="42.98" fill="#ffffff"/><rect x="664.04" y="757" width="4.7" height="42.98" fill="#ffecec"/><rect x="668.34" y="757" width="4.7" height="42.98" fill="#f0fff0"/><rect x="672.65" y="757" width="4.7" height="42.98" fill="#d9ffd9"/><rect x="676.95" y="757" width="4.7" height="42.98" fill="#f0fff0"/><rect x="681.25" y="757" width="4.7" height="42.98" fill="#d9ffd9"/><rect x="685.55" y="757" width="4.7" height="42.98" fill="#ffd0d0"/><rect x="689.85" y="757" width="4.7" height="42.98" fill="#d9ffd9"/><rect x="694.15" y="757" width="9" height="42.98" fill="#ffd0d0"/><rect x="702.76" y="757" width="4.7" height="42.98" fill="#ffecec"/><rect x="707.06" y="757" width="4.7" height="42.98" fill="#d9ffd9"/><rect x="711.36" y="757" width="4.7" height="42.98" fill="#ffecec"/><rect x="715.66" y="757" width="4.7" height="42.98" fill="#f0fff0"/><rect x="719.96" y="757" width="9" height="42.98" fill="#ffffff"/><rect x="728.56" y="757" width="4.7" height="42.98" fill="#d9ffd9"/><rect x="732.86" y="757" width="4.7" height="42.98" fill="#f0fff0"/><rect x="737.17" y="757" width="21.91" height="42.98" fill="#d9ffd9"/><rect x="758.67" y="757" width="4.7" height="42.98" fill="#ffecec"/><rect x="762.97" y="757" width="4.7" height="42.98" fill="#ffffff"/><rect x="767.27" y="757" width="4.7" height="42.98" fill="#d9ffd9"/><rect x="771.58" y="757" width="4.7" height="42.98" fill="#ffd0d0"/><rect x="775.88" y="757" width="9" height="42.98" fill="#d9ffd9"/><rect x="784.48" y="757" width="4.7" height="42.98" fill="#ffecec"/><rect x="788.78" y="757" width="17.61" height="42.98" fill="#d9ffd9"/><rect x="805.99" y="757" width="4.7" height="42.98" fill="#ffecec"/><rect x="810.29" y="757" width="4.7" height="42.98" fill="#f0fff0"/><rect x="814.59" y="757" width="4.7" height="42.98" fill="#d9ffd9"/><rect x="818.89" y="757" width="9" height="42.98" fill="#f0fff0"/><rect x="827.49" y="757" width="13.3" height="42.98" fill="#d9ffd9"/><rect x="840.4" y="757" width="4.7" height="42.98" fill="#ffecec"/><rect x="844.7" y="757" width="4.7" height="42.98" fill="#f0fff0"/><rect x="849" y="757" width="4.7" height="42.98" fill="#ffd0d0"/><rect x="853.3" y="757" width="4.7" height="42.98" fill="#d9ffd9"/><rect x="857.6" y="757" width="4.7" height="42.98" fill="#ffecec"/><rect x="861.9" y="757" width="9" height="42.98" fill="#d9ffd9"/><rect x="870.51" y="757" width="4.7" height="42.98" fill="#f0fff0"/><rect x="874.81" y="757" width="4.7" height="42.98" fill="#d9ffd9"/><rect x="879.11" y="757" width="4.7" height="42.98" fill="#ffffff"/><rect x="883.41" y="757" width="4.7" height="42.98" fill="#d9ffd9"/><rect x="887.71" y="757" width="9" height="42.98" fill="#f0fff0"/><rect x="896.31" y="757" width="17.61" height="42.98" fill="#d9ffd9"/><rect x="913.52" y="757" width="4.7" height="42.98" fill="#ffecec"/><rect x="917.82" y="757" width="4.7" height="42.98" fill="#d9ffd9"/><rect x="922.12" y="757" width="4.7" height="42.98" fill="#ffffff"/><rect x="926.42" y="757" width="13.3" height="42.98" fill="#d9ffd9"/><rect x="939.33" y="757" width="4.7" height="42.98" fill="#ffecec"/><rect x="943.63" y="757" width="9" height="42.98" fill="#f0fff0"/><rect x="952.23" y="757" width="13.3" height="42.98" fill="#d9ffd9"/><rect x="965.13" y="757" width="4.7" height="42.98" fill="#f0fff0"/><rect x="969.44" y="757" width="4.7" height="42.98" fill="#d9ffd9"/><rect x="973.74" y="757" width="13.3" height="42.98" fill="#f0fff0"/><rect x="986.64" y="757" width="9" height="42.98" fill="#d9ffd9"/><rect x="995.24" y="757" width="4.7" height="42.98" fill="#f0fff0"/><rect x="999.54" y="757" width="4.7" height="42.98" fill="#ffecec"/><rect x="1003.85" y="757" width="4.7" height="42.98" fill="#d9ffd9"/><rect x="1008.15" y="757" width="4.7" height="42.98" fill="#f0fff0"/><rect x="1012.45" y="757" width="9" height="42.98" fill="#d9ffd9"/><rect x="1021.05" y="757" width="4.7" height="42.98" fill="#ffffff"/><rect x="1025.35" y="757" width="17.61" height="42.98" fill="#f0fff0"/><rect x="1042.56" y="757" width="13.3" height="42.98" fill="#d9ffd9"/><rect x="1055.46" y="757" width="4.7" height="42.98" fill="#f0fff0"/><rect x="1059.76" y="757" width="4.7" height="42.98" fill="#d9ffd9"/><rect x="1064.06" y="757" width="4.7" height="42.98" fill="#f0fff0"/><rect x="1068.37" y="757" width="4.7" height="42.98" fill="#d9ffd9"/><rect x="1072.67" y="757" width="4.7" height="42.98" fill="#f0fff0"/><rect x="1076.97" y="757" width="17.61" height="42.98" fill="#d9ffd9"/><rect x="1094.17" y="757" width="4.7" height="42.98" fill="#f0fff0"/><rect x="1098.47" y="757" width="9" height="42.98" fill="#d9ffd9"/><rect x="1107.08" y="757" width="4.7" height="42.98" fill="#f0fff0"/><rect x="1111.38" y="757" width="4.7" height="42.98" fill="#d9ffd9"/><rect x="1115.68" y="757" width="4.7" height="42.98" fill="#f0fff0"/><rect x="1119.98" y="757" width="21.91" height="42.98" fill="#d9ffd9"/><rect x="1141.49" y="757" width="4.7" height="42.98" fill="#f0fff0"/><rect x="1145.79" y="757" width="9" height="42.98" fill="#d9ffd9"/><rect x="1154.39" y="757" width="4.7" height="42.98" fill="#f0fff0"/><rect x="1158.69" y="757" width="4.7" height="42.98" fill="#d9ffd9"/><rect x="1162.99" y="757" width="4.7" height="42.98" fill="#f0fff0"/><rect x="1167.29" y="757" width="17.61" height="42.98" fill="#d9ffd9"/>
<rect x="186.6" y="799.58" width="4.7" height="42.98" fill="#ffb2b2"/><rect x="190.9" y="799.58" width="9" height="42.98" fill="#ff0000"/><rect x="199.5" y="799.58" width="4.7" height="42.98" fill="#ffd0d0"/><rect x="203.81" y="799.58" width="4.7" height="42.98" fill="#d9ffd9"/><rect x="208.11" y="799.58" width="4.7" height="42.98" fill="#ffb2b2"/><rect x="212.41" y="799.58" width="4.7" height="42.98" fill="#ff9090"/><rect x="216.71" y="799.58" width="4.7" height="42.98" fill="#ffb2b2"/><rect x="221.01" y="799.58" width="9" height="42.98" fill="#ff2626"/><rect x="229.61" y="799.58" width="4.7" height="42.98" fill="#ffb2b2"/><rect x="233.91" y="799.58" width="4.7" height="42.98" fill="#ffffff"/><rect x="238.22" y="799.58" width="4.7" height="42.98" fill="#ff9090"/><rect x="242.52" y="799.58" width="4.7" height="42.98" fill="#ffffff"/><rect x="246.82" y="799.58" width="4.7" height="42.98" fill="#ff9090"/><rect x="251.12" y="799.58" width="13.3" height="42.98" fill="#ffb2b2"/><rect x="264.02" y="799.58" width="4.7" height="42.98" fill="#ffd0d0"/><rect x="268.32" y="799.58" width="4.7" height="42.98" fill="#ffb2b2"/><rect x="272.63" y="799.58" width="4.7" height="42.98" fill="#ffd0d0"/><rect x="276.93" y="799.58" width="4.7" height="42.98" fill="#ffb2b2"/><rect x="281.23" y="799.58" width="4.7" height="42.98" fill="#ff2626"/><rect x="285.53" y="799.58" width="4.7" height="42.98" fill="#ffd0d0"/><rect x="289.83" y="799.58" width="9" height="42.98" fill="#d9ffd9"/><rect x="298.43" y="799.58" width="9" height="42.98" fill="#ffb2b2"/><rect x="307.04" y="799.58" width="4.7" height="42.98" fill="#f0fff0"/><rect x="311.34" y="799.58" width="4.7" height="42.98" fill="#ff6a6a"/><rect x="315.64" y="799.58" width="4.7" height="42.98" fill="#ffd0d0"/><rect x="319.94" y="799.58" width="4.7" height="42.98" fill="#9dff9d"/><rect x="324.24" y="799.58" width="4.7" height="42.98" fill="#ff6a6a"/><rect x="328.54" y="799.58" width="4.7" height="42.98" fill="#ffb2b2"/><rect x="332.84" y="799.58" width="4.7" height="42.98" fill="#ffd0d0"/><rect x="337.15" y="799.58" width="4.7" height="42.98" fill="#ffffff"/><rect x="341.45" y="799.58" width="4.7" height="42.98" fill="#ff6a6a"/><rect x="345.75" y="799.58" width="4.7" height="42.98" fill="#ffd0d0"/><rect x="350.05" y="799.58" width="4.7" height="42.98" fill="#f0fff0"/><rect x="354.35" y="799.58" width="4.7" height="42.98" fill="#ff6a6a"/><rect x="358.65" y="799.58" width="4.7" height="42.98" fill="#f0fff0"/><rect x="362.95" y="799.58" width="9" height="42.98" fill="#ffffff"/><rect x="371.56" y="799.58" width="4.7" height="42.98" fill="#d9ffd9"/><rect x="375.86" y="799.58" width="4.7" height="42.98" fill="#ffffff"/><rect x="380.16" y="799.58" width="4.7" height="42.98" fill="#ff4444"/><rect x="384.46" y="799.58" width="4.7" height="42.98" fill="#ffffff"/><rect x="388.76" y="799.58" width="4.7" height="42.98" fill="#f0fff0"/><rect x="393.06" y="799.58" width="4.7" height="42.98" fill="#ffb2b2"/><rect x="397.36" y="799.58" width="4.7" height="42.98" fill="#f0fff0"/><rect x="401.66" y="799.58" width="4.7" height="42.98" fill="#ffb2b2"/><rect x="405.97" y="799.58" width="4.7" height="42.98" fill="#f0fff0"/><rect x="410.27" y="799.58" width="4.7" height="42.98" fill="#ff6a6a"/><rect x="414.57" y="799.58" width="4.7" height="42.98" fill="#d9ffd9"/><rect x="418.87" y="799.58" width="4.7" height="42.98" fill="#ffd0d0"/><rect x="423.17" y="799.58" width="4.7" height="42.98" fill="#ffb2b2"/><rect x="427.47" y="799.58" width="4.7" height="42.98" fill="#ffecec"/><rect x="431.77" y="799.58" width="4.7" height="42.98" fill="#ffffff"/><rect x="436.07" y="799.58" width="4.7" height="42.98" fill="#f0fff0"/><rect x="440.38" y="799.58" width="4.7" height="42.98" fill="#ff6a6a"/><rect x="444.68" y="799.58" width="4.7" height="42.98" fill="#9dff9d"/><rect x="448.98" y="799.58" width="4.7" height="42.98" fill="#ff9090"/><rect x="453.28" y="799.58" width="13.3" height="42.98" fill="#bbffbb"/><rect x="466.18" y="799.58" width="4.7" height="42.98" fill="#ffd0d0"/><rect x="470.49" y="799.58" width="9" height="42.98" fill="#bbffbb"/><rect x="479.09" y="799.58" width="4.7" height="42.98" fill="#ff6a6a"/><rect x="483.39" y="799.58" width="4.7" height="42.98" fill="#ff9090"/><rect x="487.69" y="799.58" width="4.7" height="42.98" fill="#ffb2b2"/><rect x="491.99" y="799.58" width="9" height="42.98" fill="#ffffff"/><rect x="500.59" y="799.58" width="4.7" height="42.98" fill="#ff9090"/><rect x="504.9" y="799.58" width="4.7" height="42.98" fill="#ffd0d0"/><rect x="509.2" y="799.58" width="4.7" height="42.98" fill="#f0fff0"/><rect x="513.5" y="799.58" width="9" height="42.98" fill="#d9ffd9"/><rect x="522.1" y="799.58" width="4.7" height="42.98" fill="#ffb2b2"/><rect x="526.4" y="799.58" width="13.3" height="42.98" fill="#d9ffd9"/><rect x="539.31" y="799.58" width="4.7" height="42.98" fill="#f0fff0"/><rect x="543.61" y="799.58" width="4.7" height="42.98" fill="#d9ffd9"/><rect x="547.91" y="799.58" width="9" height="42.98" fill="#f0fff0"/><rect x="556.51" y="799.58" width="13.3" height="42.98" fill="#bbffbb"/><rect x="569.42" y="799.58" width="4.7" height="42.98" fill="#ff9090"/><rect x="573.72" y="799.58" width="4.7" height="42.98" fill="#ffecec"/><rect x="578.02" y="799.58" width="4.7" height="42.98" fill="#d9ffd9"/><rect x="582.32" y="799.58" width="4.7" height="42.98" fill="#ffb2b2"/><rect x="586.62" y="799.58" width="4.7" height="42.98" fill="#f0fff0"/><rect x="590.92" y="799.58" width="4.7" height="42.98" fill="#ffffff"/><rect x="595.22" y="799.58" width="4.7" height="42.98" fill="#f0fff0"/><rect x="599.52" y="799.58" width="9" height="42.98" fill="#ffffff"/><rect x="608.13" y="799.58" width="4.7" height="42.98" fill="#ffd0d0"/><rect x="612.43" y="799.58" width="4.7" height="42.98" fill="#ffb2b2"/><rect x="616.73" y="799.58" width="4.7" height="42.98" fill="#d9ffd9"/><rect x="621.03" y="799.58" width="4.7" height="42.98" fill="#ffecec"/><rect x="625.33" y="799.58" width="4.7" height="42.98" fill="#bbffbb"/><rect x="629.63" y="799.58" width="4.7" height="42.98" fill="#ffecec"/><rect x="633.93" y="799.58" width="4.7" height="42.98" fill="#d9ffd9"/><rect x="638.24" y="799.58" width="4.7" height="42.98" fill="#ffb2b2"/><rect x="642.54" y="799.58" width="4.7" height="42.98" fill="#bbffbb"/><rect x="646.84" y="799.58" width="4.7" height="42.98" fill="#ff0000"/><rect x="651.14" y="799.58" width="4.7" height="42.98" fill="#f0fff0"/><rect x="655.44" y="799.58" width="17.61" height="42.98" fill="#bbffbb"/><rect x="672.65" y="799.58" width="4.7" height="42.98" fill="#f0fff0"/><rect x="676.95" y="799.58" width="4.7" height="42.98" fill="#bbffbb"/><rect x="681.25" y="799.58" width="4.7" height="42.98" fill="#9dff9d"/><rect x="685.55" y="799.58" width="9" height="42.98" fill="#d9ffd9"/><rect x="694.15" y="799.58" width="9" height="42.98" fill="#bbffbb"/><rect x="702.76" y="799.58" width="4.7" height="42.98" fill="#d9ffd9"/><rect x="707.06" y="799.58" width="4.7" height="42.98" fill="#ffd0d0"/><rect x="711.36" y="799.58" width="4.7" height="42.98" fill="#f0fff0"/><rect x="715.66" y="799.58" width="9" height="42.98" fill="#ffd0d0"/><rect x="724.26" y="799.58" width="4.7" height="42.98" fill="#9dff9d"/><rect x="728.56" y="799.58" width="4.7" height="42.98" fill="#bbffbb"/><rect x="732.86" y="799.58" width="4.7" height="42.98" fill="#ffffff"/><rect x="737.17" y="799.58" width="4.7" height="42.98" fill="#ffecec"/><rect x="741.47" y="799.58" width="4.7" height="42.98" fill="#ffb2b2"/><rect x="745.77" y="799.58" width="4.7" height="42.98" fill="#ffd0d0"/><rect x="750.07" y="799.58" width="4.7" height="42.98" fill="#ffb2b2"/><rect x="754.37" y="799.58" width="4.7" height="42.98" fill="#bbffbb"/><rect x="758.67" y="799.58" width="4.7" height="42.98" fill="#f0fff0"/><rect x="762.97" y="799.58" width="4.7" height="42.98" fill="#ff6a6a"/><rect x="767.27" y="799.58" width="9" height="42.98" fill="#bbffbb"/><rect x="775.88" y="799.58" width="4.7" height="42.98" fill="#ffffff"/><rect x="780.18" y="799.58" width="4.7" height="42.98" fill="#d9ffd9"/><rect x="784.48" y="799.58" width="4.7" height="42.98" fill="#f0fff0"/><rect x="788.78" y="799.58" width="4.7" height="42.98" fill="#d9ffd9"/><rect x="793.08" y="799.58" width="4.7" height="42.98" fill="#ffb2b2"/><rect x="797.38" y="799.58" width="9" height="42.98" fill="#ffffff"/><rect x="805.99" y="799.58" width="4.7" height="42.98" fill="#ffecec"/><rect x="810.29" y="799.58" width="4.7" height="42.98" fill="#ffffff"/><rect x="814.59" y="799.58" width="4.7" height="42.98" fill="#bbffbb"/><rect x="818.89" y="799.58" width="4.7" height="42.98" fill="#9dff9d"/><rect x="823.19" y="799.58" width="4.7" height="42.98" fill="#d9ffd9"/><rect x="827.49" y="799.58" width="9" height="42.98" fill="#f0fff0"/><rect x="836.1" y="799.58" width="4.7" height="42.98" fill="#bbffbb"/><rect x="840.4" y="799.58" width="4.7" height="42.98" fill="#ffffff"/><rect x="844.7" y="799.58" width="4.7" height="42.98" fill="#d9ffd9"/><rect x="849" y="799.58" width="13.3" height="42.98" fill="#bbffbb"/><rect x="861.9" y="799.58" width="4.7" height="42.98" fill="#f0fff0"/><rect x="866.2" y="799.58" width="17.61" height="42.98" fill="#bbffbb"/><rect x="883.41" y="799.58" width="4.7" height="42.98" fill="#d9ffd9"/><rect x="887.71" y="799.58" width="4.7" height="42.98" fill="#ffffff"/><rect x="892.01" y="799.58" width="4.7" height="42.98" fill="#ffecec"/><rect x="896.31" y="799.58" width="9" height="42.98" fill="#bbffbb"/><rect x="904.92" y="799.58" width="4.7" height="42.98" fill="#f0fff0"/><rect x="909.22" y="799.58" width="17.61" height="42.98" fill="#d9ffd9"/><rect x="926.42" y="799.58" width="4.7" height="42.98" fill="#bbffbb"/><rect x="930.72" y="799.58" width="4.7" height="42.98" fill="#ff9090"/><rect x="935.03" y="799.58" width="4.7" height="42.98" fill="#d9ffd9"/><rect x="939.33" y="799.58" width="13.3" height="42.98" fill="#bbffbb"/><rect x="952.23" y="799.58" width="4.7" height="42.98" fill="#9dff9d"/><rect x="956.53" y="799.58" width="9" height="42.98" fill="#bbffbb"/><rect x="965.13" y="799.58" width="4.7" height="42.98" fill="#9dff9d"/><rect x="969.44" y="799.58" width="4.7" height="42.98" fill="#f0fff0"/><rect x="973.74" y="799.58" width="9" height="42.98" fill="#bbffbb"/><rect x="982.34" y="799.58" width="4.7" height="42.98" fill="#f0fff0"/><rect x="986.64" y="799.58" width="4.7" height="42.98" fill="#bbffbb"/><rect x="990.94" y="799.58" width="4.7" height="42.98" fill="#ffd0d0"/><rect x="995.24" y="799.58" width="9" height="42.98" fill="#bbffbb"/><rect x="1003.85" y="799.58" width="4.7" height="42.98" fill="#ffd0d0"/><rect x="1008.15" y="799.58" width="9" height="42.98" fill="#bbffbb"/><rect x="1016.75" y="799.58" width="4.7" height="42.98" fill="#d9ffd9"/><rect x="1021.05" y="799.58" width="9" height="42.98" fill="#bbffbb"/><rect x="1029.65" y="799.58" width="4.7" height="42.98" fill="#f0fff0"/><rect x="1033.95" y="799.58" width="9" height="42.98" fill="#bbffbb"/><rect x="1042.56" y="799.58" width="4.7" height="42.98" fill="#d9ffd9"/><rect x="1046.86" y="799.58" width="17.61" height="42.98" fill="#bbffbb"/><rect x="1064.06" y="799.58" width="4.7" height="42.98" fill="#9dff9d"/><rect x="1068.37" y="799.58" width="4.7" height="42.98" fill="#d9ffd9"/><rect x="1072.67" y="799.58" width="9" height="42.98" fill="#bbffbb"/><rect x="1081.27" y="799.58" width="9" height="42.98" fill="#d9ffd9"/><rect x="1089.87" y="799.58" width="4.7" height="42.98" fill="#f0fff0"/><rect x="1094.17" y="799.58" width="9" height="42.98" fill="#9dff9d"/><rect x="1102.78" y="799.58" width="4.7" height="42.98" fill="#ffd0d0"/><rect x="1107.08" y="799.58" width="17.61" height="42.98" fill="#bbffbb"/><rect x="1124.28" y="799.58" width="4.7" height="42.98" fill="#ffecec"/><rect x="1128.58" y="799.58" width="4.7" height="42.98" fill="#9dff9d"/><rect x="1132.88" y="799.58" width="4.7" height="42.98" fill="#bbffbb"/><rect x="1137.19" y="799.58" width="9" height="42.98" fill="#d9ffd9"/><rect x="1145.79" y="799.58" width="4.7" height="42.98" fill="#9dff9d"/><rect x="1150.09" y="799.58" width="9" height="42.98" fill="#bbffbb"/><rect x="1158.69" y="799.58" width="4.7" height="42.98" fill="#f0fff0"/><rect x="1162.99" y="799.58" width="4.7" height="42.98" fill="#bbffbb"/><rect x="1167.29" y="799.58" width="4.7" height="42.98" fill="#9dff9d"/><rect x="1171.6" y="799.58" width="4.7" height="42.98" fill="#bbffbb"/><rect x="1175.9" y="799.58" width="4.7" height="42.98" fill="#9dff9d"/><rect x="1180.2" y="799.58" width="4.7" height="42.98" fill="#bbffbb"/>
<rect x="186.6" y="842.16" width="4.7" height="42.98" fill="#ff2626"/><rect x="190.9" y="842.16" width="4.7" height="42.98" fill="#ff6a6a"/><rect x="195.2" y="842.16" width="4.7" height="42.98" fill="#ffecec"/><rect x="199.5" y="842.16" width="4.7" height="42.98" fill="#ff0000"/><rect x="203.81" y="842.16" width="9" height="42.98" fill="#ffd0d0"/><rect x="212.41" y="842.16" width="4.7" height="42.98" fill="#ff2626"/><rect x="216.71" y="842.16" width="4.7" height="42.98" fill="#ffffff"/><rect x="221.01" y="842.16" width="4.7" height="42.98" fill="#ffecec"/><rect x="225.31" y="842.16" width="9" height="42.98" fill="#ff6a6a"/><rect x="233.91" y="842.16" width="4.7" height="42.98" fill="#ff9090"/><rect x="238.22" y="842.16" width="4.7" height="42.98" fill="#ff6a6a"/><rect x="242.52" y="842.16" width="4.7" height="42.98" fill="#ff4444"/><rect x="246.82" y="842.16" width="4.7" height="42.98" fill="#ffd0d0"/><rect x="251.12" y="842.16" width="4.7" height="42.98" fill="#ff4444"/><rect x="255.42" y="842.16" width="4.7" height="42.98" fill="#d9ffd9"/><rect x="259.72" y="842.16" width="4.7" height="42.98" fill="#ff9090"/><rect x="264.02" y="842.16" width="4.7" height="42.98" fill="#bbffbb"/><rect x="268.32" y="842.16" width="4.7" height="42.98" fill="#ffd0d0"/><rect x="272.63" y="842.16" width="4.7" height="42.98" fill="#ff9090"/><rect x="276.93" y="842.16" width="4.7" height="42.98" fill="#ffffff"/><rect x="281.23" y="842.16" width="4.7" height="42.98" fill="#d9ffd9"/><rect x="285.53" y="842.16" width="4.7" height="42.98" fill="#ff6a6a"/><rect x="289.83" y="842.16" width="4.7" height="42.98" fill="#f0fff0"/><rect x="294.13" y="842.16" width="4.7" height="42.98" fill="#ffecec"/><rect x="298.43" y="842.16" width="4.7" height="42.98" fill="#ffd0d0"/><rect x="302.73" y="842.16" width="4.7" height="42.98" fill="#ffb2b2"/><rect x="307.04" y="842.16" width="4.7" height="42.98" fill="#ff2626"/><rect x="311.34" y="842.16" width="4.7" height="42.98" fill="#ff9090"/><rect x="315.64" y="842.16" width="4.7" height="42.98" fill="#bbffbb"/><rect x="319.94" y="842.16" width="9" height="42.98" fill="#f0fff0"/><rect x="328.54" y="842.16" width="4.7" height="42.98" fill="#bbffbb"/><rect x="332.84" y="842.16" width="4.7" height="42.98" fill="#ffd0d0"/><rect x="337.15" y="842.16" width="4.7" height="42.98" fill="#ff0000"/><rect x="341.45" y="842.16" width="4.7" height="42.98" fill="#ff9090"/><rect x="345.75" y="842.16" width="4.7" height="42.98" fill="#ffd0d0"/><rect x="350.05" y="842.16" width="4.7" height="42.98" fill="#ffb2b2"/><rect x="354.35" y="842.16" width="4.7" height="42.98" fill="#ff9090"/><rect x="358.65" y="842.16" width="4.7" height="42.98" fill="#f0fff0"/><rect x="362.95" y="842.16" width="4.7" height="42.98" fill="#ffb2b2"/><rect x="367.25" y="842.16" width="4.7" height="42.98" fill="#ffecec"/><rect x="371.56" y="842.16" width="4.7" height="42.98" fill="#ffffff"/><rect x="375.86" y="842.16" width="13.3" height="42.98" fill="#ff2626"/><rect x="388.76" y="842.16" width="4.7" height="42.98" fill="#d9ffd9"/><rect x="393.06" y="842.16" width="4.7" height="42.98" fill="#bbffbb"/><rect x="397.36" y="842.16" width="4.7" height="42.98" fill="#ffd0d0"/><rect x="401.66" y="842.16" width="4.7" height="42.98" fill="#ffffff"/><rect x="405.97" y="842.16" width="4.7" height="42.98" fill="#9dff9d"/><rect x="410.27" y="842.16" width="4.7" height="42.98" fill="#ffffff"/><rect x="414.57" y="842.16" width="4.7" height="42.98" fill="#d9ffd9"/><rect x="418.87" y="842.16" width="4.7" height="42.98" fill="#ff0000"/><rect x="423.17" y="842.16" width="9" height="42.98" fill="#ffb2b2"/><rect x="431.77" y="842.16" width="4.7" height="42.98" fill="#d9ffd9"/><rect x="436.07" y="842.16" width="4.7" height="42.98" fill="#ffd0d0"/><rect x="440.38" y="842.16" width="4.7" height="42.98" fill="#ffffff"/><rect x="444.68" y="842.16" width="9" height="42.98" fill="#f0fff0"/><rect x="453.28" y="842.16" width="4.7" height="42.98" fill="#ffecec"/><rect x="457.58" y="842.16" width="9" height="42.98" fill="#d9ffd9"/><rect x="466.18" y="842.16" width="4.7" height="42.98" fill="#ff4444"/><rect x="470.49" y="842.16" width="4.7" height="42.98" fill="#6eff6e"/><rect x="474.79" y="842.16" width="4.7" height="42.98" fill="#ffecec"/><rect x="479.09" y="842.16" width="4.7" height="42.98" fill="#ffd0d0"/><rect x="483.39" y="842.16" width="4.7" height="42.98" fill="#ffecec"/><rect x="487.69" y="842.16" width="4.7" height="42.98" fill="#ffffff"/><rect x="491.99" y="842.16" width="4.7" height="42.98" fill="#ffb2b2"/><rect x="496.29" y="842.16" width="13.3" height="42.98" fill="#ffd0d0"/><rect x="509.2" y="842.16" width="4.7" height="42.98" fill="#ffffff"/><rect x="513.5" y="842.16" width="4.7" height="42.98" fill="#ff9090"/><rect x="517.8" y="842.16" width="4.7" height="42.98" fill="#ff6a6a"/><rect x="522.1" y="842.16" width="4.7" height="42.98" fill="#ffecec"/><rect x="526.4" y="842.16" width="9" height="42.98" fill="#ffb2b2"/><rect x="535" y="842.16" width="4.7" height="42.98" fill="#ffffff"/><rect x="539.31" y="842.16" width="4.7" height="42.98" fill="#ff9090"/><rect x="543.61" y="842.16" width="4.7" height="42.98" fill="#bbffbb"/><rect x="547.91" y="842.16" width="4.7" height="42.98" fill="#ffffff"/><rect x="552.21" y="842.16" width="4.7" height="42.98" fill="#9dff9d"/><rect x="556.51" y="842.16" width="9" height="42.98" fill="#ffd0d0"/><rect x="565.11" y="842.16" width="4.7" height="42.98" fill="#ffecec"/><rect x="569.42" y="842.16" width="4.7" height="42.98" fill="#ffb2b2"/><rect x="573.72" y="842.16" width="4.7" height="42.98" fill="#d9ffd9"/><rect x="578.02" y="842.16" width="4.7" height="42.98" fill="#ffb2b2"/><rect x="582.32" y="842.16" width="4.7" height="42.98" fill="#ffffff"/><rect x="586.62" y="842.16" width="4.7" height="42.98" fill="#d9ffd9"/><rect x="590.92" y="842.16" width="4.7" height="42.98" fill="#f0fff0"/><rect x="595.22" y="842.16" width="4.7" height="42.98" fill="#ffecec"/><rect x="599.52" y="842.16" width="4.7" height="42.98" fill="#f0fff0"/><rect x="603.83" y="842.16" width="4.7" height="42.98" fill="#ffb2b2"/><rect x="608.13" y="842.16" width="4.7" height="42.98" fill="#ffecec"/><rect x="612.43" y="842.16" width="13.3" height="42.98" fill="#d9ffd9"/><rect x="625.33" y="842.16" width="4.7" height="42.98" fill="#bbffbb"/><rect x="629.63" y="842.16" width="4.7" height="42.98" fill="#ffb2b2"/><rect x="633.93" y="842.16" width="4.7" height="42.98" fill="#f0fff0"/><rect x="638.24" y="842.16" width="4.7" height="42.98" fill="#ff2626"/><rect x="642.54" y="842.16" width="4.7" height="42.98" fill="#ffecec"/><rect x="646.84" y="842.16" width="9" height="42.98" fill="#f0fff0"/><rect x="655.44" y="842.16" width="4.7" height="42.98" fill="#ffecec"/><rect x="659.74" y="842.16" width="4.7" height="42.98" fill="#6eff6e"/><rect x="664.04" y="842.16" width="4.7" height="42.98" fill="#f0fff0"/><rect x="668.34" y="842.16" width="4.7" height="42.98" fill="#d9ffd9"/><rect x="672.65" y="842.16" width="4.7" height="42.98" fill="#ffffff"/><rect x="676.95" y="842.16" width="4.7" height="42.98" fill="#bbffbb"/><rect x="681.25" y="842.16" width="4.7" height="42.98" fill="#9dff9d"/><rect x="685.55" y="842.16" width="9" height="42.98" fill="#d9ffd9"/><rect x="694.15" y="842.16" width="4.7" height="42.98" fill="#bbffbb"/><rect x="698.45" y="842.16" width="4.7" height="42.98" fill="#d9ffd9"/><rect x="702.76" y="842.16" width="4.7" height="42.98" fill="#f0fff0"/><rect x="707.06" y="842.16" width="4.7" height="42.98" fill="#ff9090"/><rect x="711.36" y="842.16" width="4.7" height="42.98" fill="#f0fff0"/><rect x="715.66" y="842.16" width="4.7" height="42.98" fill="#ffd0d0"/><rect x="719.96" y="842.16" width="9" height="42.98" fill="#bbffbb"/><rect x="728.56" y="842.16" width="9" height="42.98" fill="#9dff9d"/><rect x="737.17" y="842.16" width="4.7" height="42.98" fill="#f0fff0"/><rect x="741.47" y="842.16" width="4.7" height="42.98" fill="#ffb2b2"/><rect x="745.77" y="842.16" width="4.7" height="42.98" fill="#ff9090"/><rect x="750.07" y="842.16" width="4.7" height="42.98" fill="#ff6a6a"/><rect x="754.37" y="842.16" width="9" height="42.98" fill="#9dff9d"/><rect x="762.97" y="842.16" width="9" height="42.98" fill="#bbffbb"/><rect x="771.58" y="842.16" width="4.7" height="42.98" fill="#ffd0d0"/><rect x="775.88" y="842.16" width="4.7" height="42.98" fill="#ffffff"/><rect x="780.18" y="842.16" width="9" height="42.98" fill="#f0fff0"/><rect x="788.78" y="842.16" width="4.7" height="42.98" fill="#ffd0d0"/><rect x="793.08" y="842.16" width="4.7" height="42.98" fill="#bbffbb"/><rect x="797.38" y="842.16" width="4.7" height="42.98" fill="#ffffff"/><rect x="801.68" y="842.16" width="4.7" height="42.98" fill="#d9ffd9"/><rect x="805.99" y="842.16" width="4.7" height="42.98" fill="#ffd0d0"/><rect x="810.29" y="842.16" width="4.7" height="42.98" fill="#ff9090"/><rect x="814.59" y="842.16" width="4.7" height="42.98" fill="#f0fff0"/><rect x="818.89" y="842.16" width="4.7" height="42.98" fill="#d9ffd9"/><rect x="823.19" y="842.16" width="4.7" height="42.98" fill="#bbffbb"/><rect x="827.49" y="842.16" width="9" height="42.98" fill="#f0fff0"/><rect x="836.1" y="842.16" width="4.7" height="42.98" fill="#d9ffd9"/><rect x="840.4" y="842.16" width="4.7" height="42.98" fill="#bbffbb"/><rect x="844.7" y="842.16" width="4.7" height="42.98" fill="#f0fff0"/><rect x="849" y="842.16" width="4.7" height="42.98" fill="#bbffbb"/><rect x="853.3" y="842.16" width="4.7" height="42.98" fill="#ffecec"/><rect x="857.6" y="842.16" width="4.7" height="42.98" fill="#bbffbb"/><rect x="861.9" y="842.16" width="4.7" height="42.98" fill="#d9ffd9"/><rect x="866.2" y="842.16" width="17.61" height="42.98" fill="#bbffbb"/><rect x="883.41" y="842.16" width="4.7" height="42.98" fill="#ffffff"/><rect x="887.71" y="842.16" width="4.7" height="42.98" fill="#bbffbb"/><rect x="892.01" y="842.16" width="4.7" height="42.98" fill="#f0fff0"/><rect x="896.31" y="842.16" width="4.7" height="42.98" fill="#d9ffd9"/><rect x="900.61" y="842.16" width="4.7" height="42.98" fill="#ffd0d0"/><rect x="904.92" y="842.16" width="4.7" height="42.98" fill="#ffb2b2"/><rect x="909.22" y="842.16" width="4.7" height="42.98" fill="#d9ffd9"/><rect x="913.52" y="842.16" width="4.7" height="42.98" fill="#9dff9d"/><rect x="917.82" y="842.16" width="4.7" height="42.98" fill="#ffd0d0"/><rect x="922.12" y="842.16" width="4.7" height="42.98" fill="#d9ffd9"/><rect x="926.42" y="842.16" width="9" height="42.98" fill="#bbffbb"/><rect x="935.03" y="842.16" width="4.7" height="42.98" fill="#ffffff"/><rect x="939.33" y="842.16" width="4.7" height="42.98" fill="#9dff9d"/><rect x="943.63" y="842.16" width="4.7" height="42.98" fill="#ffb2b2"/><rect x="947.93" y="842.16" width="4.7" height="42.98" fill="#bbffbb"/><rect x="952.23" y="842.16" width="9" height="42.98" fill="#9dff9d"/><rect x="960.83" y="842.16" width="4.7" height="42.98" fill="#ffffff"/><rect x="965.13" y="842.16" width="9" height="42.98" fill="#f0fff0"/><rect x="973.74" y="842.16" width="17.61" height="42.98" fill="#bbffbb"/><rect x="990.94" y="842.16" width="4.7" height="42.98" fill="#ffd0d0"/><rect x="995.24" y="842.16" width="4.7" height="42.98" fill="#f0fff0"/><rect x="999.54" y="842.16" width="4.7" height="42.98" fill="#9dff9d"/><rect x="1003.85" y="842.16" width="4.7" height="42.98" fill="#f0fff0"/><rect x="1008.15" y="842.16" width="4.7" height="42.98" fill="#bbffbb"/><rect x="1012.45" y="842.16" width="4.7" height="42.98" fill="#f0fff0"/><rect x="1016.75" y="842.16" width="4.7" height="42.98" fill="#ffffff"/><rect x="1021.05" y="842.16" width="4.7" height="42.98" fill="#6eff6e"/><rect x="1025.35" y="842.16" width="4.7" height="42.98" fill="#9dff9d"/><rect x="1029.65" y="842.16" width="9" height="42.98" fill="#bbffbb"/><rect x="1038.26" y="842.16" width="4.7" height="42.98" fill="#d9ffd9"/><rect x="1042.56" y="842.16" width="4.7" height="42.98" fill="#bbffbb"/><rect x="1046.86" y="842.16" width="4.7" height="42.98" fill="#ffd0d0"/><rect x="1051.16" y="842.16" width="4.7" height="42.98" fill="#d9ffd9"/><rect x="1055.46" y="842.16" width="9" height="42.98" fill="#9dff9d"/><rect x="1064.06" y="842.16" width="4.7" height="42.98" fill="#f0fff0"/><rect x="1068.37" y="842.16" width="4.7" height="42.98" fill="#bbffbb"/><rect x="1072.67" y="842.16" width="4.7" height="42.98" fill="#9dff9d"/><rect x="1076.97" y="842.16" width="4.7" height="42.98" fill="#ffecec"/><rect x="1081.27" y="842.16" width="4.7" height="42.98" fill="#9dff9d"/><rect x="1085.57" y="842.16" width="4.7" height="42.98" fill="#bbffbb"/><rect x="1089.87" y="842.16" width="4.7" height="42.98" fill="#9dff9d"/><rect x="1094.17" y="842.16" width="4.7" height="42.98" fill="#bbffbb"/><rect x="1098.47" y="842.16" width="4.7" height="42.98" fill="#9dff9d"/><rect x="1102.78" y="842.16" width="4.7" height="42.98" fill="#bbffbb"/><rect x="1107.08" y="842.16" width="4.7" height="42.98" fill="#d9ffd9"/><rect x="1111.38" y="842.16" width="9" height="42.98" fill="#9dff9d"/><rect x="1119.98" y="842.16" width="9" height="42.98" fill="#d9ffd9"/><rect x="1128.58" y="842.16" width="4.7" height="42.98" fill="#bbffbb"/><rect x="1132.88" y="842.16" width="4.7" height="42.98" fill="#f0fff0"/><rect x="1137.19" y="842.16" width="4.7" height="42.98" fill="#bbffbb"/><rect x="1141.49" y="842.16" width="4.7" height="42.98" fill="#9dff9d"/><rect x="1145.79" y="842.16" width="4.7" height="42.98" fill="#bbffbb"/><rect x="1150.09" y="842.16" width="4.7" height="42.98" fill="#9dff9d"/><rect x="1154.39" y="842.16" width="4.7" height="42.98" fill="#bbffbb"/><rect x="1158.69" y="842.16" width="26.21" height="42.98" fill="#9dff9d"/>
<rect x="186.6" y="884.74" width="4.7" height="42.98" fill="#d9ffd9"/><rect x="190.9" y="884.74" width="4.7" height="42.98" fill="#ff4444"/><rect x="195.2" y="884.74" width="21.91" height="42.98" fill="#ff2626"/><rect x="216.71" y="884.74" width="4.7" height="42.98" fill="#ffd0d0"/><rect x="221.01" y="884.74" width="4.7" height="42.98" fill="#ffb2b2"/><rect x="225.31" y="884.74" width="4.7" height="42.98" fill="#ff2626"/><rect x="229.61" y="884.74" width="4.7" height="42.98" fill="#ff6a6a"/><rect x="233.91" y="884.74" width="4.7" height="42.98" fill="#ffffff"/><rect x="238.22" y="884.74" width="4.7" height="42.98" fill="#ff2626"/><rect x="242.52" y="884.74" width="4.7" height="42.98" fill="#ffffff"/><rect x="246.82" y="884.74" width="4.7" height="42.98" fill="#ff4444"/><rect x="251.12" y="884.74" width="9" height="42.98" fill="#ffffff"/><rect x="259.72" y="884.74" width="4.7" height="42.98" fill="#ff9090"/><rect x="264.02" y="884.74" width="4.7" height="42.98" fill="#d9ffd9"/><rect x="268.32" y="884.74" width="4.7" height="42.98" fill="#ff2626"/><rect x="272.63" y="884.74" width="4.7" height="42.98" fill="#ff9090"/><rect x="276.93" y="884.74" width="4.7" height="42.98" fill="#ffb2b2"/><rect x="281.23" y="884.74" width="4.7" height="42.98" fill="#f0fff0"/><rect x="285.53" y="884.74" width="4.7" height="42.98" fill="#ff9090"/><rect x="289.83" y="884.74" width="4.7" height="42.98" fill="#ffb2b2"/><rect x="294.13" y="884.74" width="4.7" height="42.98" fill="#f0fff0"/><rect x="298.43" y="884.74" width="4.7" height="42.98" fill="#ffb2b2"/><rect x="302.73" y="884.74" width="4.7" height="42.98" fill="#ff6a6a"/><rect x="307.04" y="884.74" width="4.7" height="42.98" fill="#ff9090"/><rect x="311.34" y="884.74" width="4.7" height="42.98" fill="#ffd0d0"/><rect x="315.64" y="884.74" width="4.7" height="42.98" fill="#ffecec"/><rect x="319.94" y="884.74" width="4.7" height="42.98" fill="#d9ffd9"/><rect x="324.24" y="884.74" width="4.7" height="42.98" fill="#ff2626"/><rect x="328.54" y="884.74" width="4.7" height="42.98" fill="#ff9090"/><rect x="332.84" y="884.74" width="4.7" height="42.98" fill="#ffffff"/><rect x="337.15" y="884.74" width="4.7" height="42.98" fill="#d9ffd9"/><rect x="341.45" y="884.74" width="4.7" height="42.98" fill="#ffb2b2"/><rect x="345.75" y="884.74" width="4.7" height="42.98" fill="#ffecec"/><rect x="350.05" y="884.74" width="4.7" height="42.98" fill="#bbffbb"/><rect x="354.35" y="884.74" width="4.7" height="42.98" fill="#ffecec"/><rect x="358.65" y="884.74" width="4.7" height="42.98" fill="#ffd0d0"/><rect x="362.95" y="884.74" width="9" height="42.98" fill="#d9ffd9"/><rect x="371.56" y="884.74" width="4.7" height="42.98" fill="#f0fff0"/><rect x="375.86" y="884.74" width="4.7" height="42.98" fill="#d9ffd9"/><rect x="380.16" y="884.74" width="4.7" height="42.98" fill="#ffffff"/><rect x="384.46" y="884.74" width="4.7" height="42.98" fill="#d9ffd9"/><rect x="388.76" y="884.74" width="4.7" height="42.98" fill="#bbffbb"/><rect x="393.06" y="884.74" width="4.7" height="42.98" fill="#ffd0d0"/><rect x="397.36" y="884.74" width="4.7" height="42.98" fill="#f0fff0"/><rect x="401.66" y="884.74" width="4.7" height="42.98" fill="#ff9090"/><rect x="405.97" y="884.74" width="4.7" height="42.98" fill="#ff6a6a"/><rect x="410.27" y="884.74" width="4.7" height="42.98" fill="#ffffff"/><rect x="414.57" y="884.74" width="4.7" height="42.98" fill="#ff6a6a"/><rect x="418.87" y="884.74" width="4.7" height="42.98" fill="#d9ffd9"/><rect x="423.17" y="884.74" width="4.7" height="42.98" fill="#ffd0d0"/><rect x="427.47" y="884.74" width="4.7" height="42.98" fill="#d9ffd9"/><rect x="431.77" y="884.74" width="4.7" height="42.98" fill="#ffd0d0"/><rect x="436.07" y="884.74" width="4.7" height="42.98" fill="#d9ffd9"/><rect x="440.38" y="884.74" width="4.7" height="42.98" fill="#ffb2b2"/><rect x="444.68" y="884.74" width="9" height="42.98" fill="#f0fff0"/><rect x="453.28" y="884.74" width="4.7" height="42.98" fill="#bbffbb"/><rect x="457.58" y="884.74" width="4.7" height="42.98" fill="#ff0000"/><rect x="461.88" y="884.74" width="4.7" height="42.98" fill="#ffd0d0"/><rect x="466.18" y="884.74" width="4.7" height="42.98" fill="#9dff9d"/><rect x="470.49" y="884.74" width="4.7" height="42.98" fill="#ff9090"/><rect x="474.79" y="884.74" width="9" height="42.98" fill="#d9ffd9"/><rect x="483.39" y="884.74" width="4.7" height="42.98" fill="#ffd0d0"/><rect x="487.69" y="884.74" width="9" height="42.98" fill="#ffecec"/><rect x="496.29" y="884.74" width="4.7" height="42.98" fill="#ffd0d0"/><rect x="500.59" y="884.74" width="4.7" height="42.98" fill="#d9ffd9"/><rect x="504.9" y="884.74" width="4.7" height="42.98" fill="#ffd0d0"/><rect x="509.2" y="884.74" width="4.7" height="42.98" fill="#bbffbb"/><rect x="513.5" y="884.74" width="9" height="42.98" fill="#ffd0d0"/><rect x="522.1" y="884.74" width="4.7" height="42.98" fill="#bbffbb"/><rect x="526.4" y="884.74" width="4.7" height="42.98" fill="#ffecec"/><rect x="530.7" y="884.74" width="4.7" height="42.98" fill="#d9ffd9"/><rect x="535" y="884.74" width="4.7" height="42.98" fill="#ffffff"/><rect x="539.31" y="884.74" width="4.7" height="42.98" fill="#ffb2b2"/><rect x="543.61" y="884.74" width="9" height="42.98" fill="#ffd0d0"/><rect x="552.21" y="884.74" width="4.7" height="42.98" fill="#ffb2b2"/><rect x="556.51" y="884.74" width="4.7" height="42.98" fill="#bbffbb"/><rect x="560.81" y="884.74" width="4.7" height="42.98" fill="#d9ffd9"/><rect x="565.11" y="884.74" width="17.61" height="42.98" fill="#bbffbb"/><rect x="582.32" y="884.74" width="4.7" height="42.98" fill="#d9ffd9"/><rect x="586.62" y="884.74" width="4.7" height="42.98" fill="#ffd0d0"/><rect x="590.92" y="884.74" width="13.3" height="42.98" fill="#bbffbb"/><rect x="603.83" y="884.74" width="4.7" height="42.98" fill="#ffb2b2"/><rect x="608.13" y="884.74" width="4.7" height="42.98" fill="#ffd0d0"/><rect x="612.43" y="884.74" width="4.7" height="42.98" fill="#f0fff0"/><rect x="616.73" y="884.74" width="4.7" height="42.98" fill="#ffd0d0"/><rect x="621.03" y="884.74" width="9" height="42.98" fill="#bbffbb"/><rect x="629.63" y="884.74" width="4.7" height="42.98" fill="#ffffff"/><rect x="633.93" y="884.74" width="4.7" height="42.98" fill="#f0fff0"/><rect x="638.24" y="884.74" width="4.7" height="42.98" fill="#bbffbb"/><rect x="642.54" y="884.74" width="4.7" height="42.98" fill="#d9ffd9"/><rect x="646.84" y="884.74" width="4.7" height="42.98" fill="#ffecec"/><rect x="651.14" y="884.74" width="4.7" height="42.98" fill="#bbffbb"/><rect x="655.44" y="884.74" width="4.7" height="42.98" fill="#d9ffd9"/><rect x="659.74" y="884.74" width="4.7" height="42.98" fill="#ffffff"/><rect x="664.04" y="884.74" width="4.7" height="42.98" fill="#bbffbb"/><rect x="668.34" y="884.74" width="4.7" height="42.98" fill="#ffd0d0"/><rect x="672.65" y="884.74" width="4.7" height="42.98" fill="#f0fff0"/><rect x="676.95" y="884.74" width="4.7" height="42.98" fill="#bbffbb"/><rect x="681.25" y="884.74" width="4.7" height="42.98" fill="#9dff9d"/><rect x="685.55" y="884.74" width="9" height="42.98" fill="#bbffbb"/><rect x="694.15" y="884.74" width="4.7" height="42.98" fill="#d9ffd9"/><rect x="698.45" y="884.74" width="4.7" height="42.98" fill="#f0fff0"/><rect x="702.76" y="884.74" width="4.7" height="42.98" fill="#bbffbb"/><rect x="707.06" y="884.74" width="4.7" height="42.98" fill="#ffecec"/><rect x="711.36" y="884.74" width="4.7" height="42.98" fill="#f0fff0"/><rect x="715.66" y="884.74" width="9" height="42.98" fill="#d9ffd9"/><rect x="724.26" y="884.74" width="4.7" height="42.98" fill="#ffffff"/><rect x="728.56" y="884.74" width="4.7" height="42.98" fill="#bbffbb"/><rect x="732.86" y="884.74" width="4.7" height="42.98" fill="#ff9090"/><rect x="737.17" y="884.74" width="4.7" height="42.98" fill="#ffecec"/><rect x="741.47" y="884.74" width="4.7" height="42.98" fill="#ffffff"/><rect x="745.77" y="884.74" width="4.7" height="42.98" fill="#f0fff0"/><rect x="750.07" y="884.74" width="4.7" height="42.98" fill="#bbffbb"/><rect x="754.37" y="884.74" width="4.7" height="42.98" fill="#ffecec"/><rect x="758.67" y="884.74" width="4.7" height="42.98" fill="#d9ffd9"/><rect x="762.97" y="884.74" width="4.7" height="42.98" fill="#bbffbb"/><rect x="767.27" y="884.74" width="4.7" height="42.98" fill="#ffb2b2"/><rect x="771.58" y="884.74" width="9" height="42.98" fill="#bbffbb"/><rect x="780.18" y="884.74" width="4.7" height="42.98" fill="#d9ffd9"/><rect x="784.48" y="884.74" width="9" height="42.98" fill="#bbffbb"/><rect x="793.08" y="884.74" width="4.7" height="42.98" fill="#ffd0d0"/><rect x="797.38" y="884.74" width="4.7" height="42.98" fill="#ffffff"/><rect x="801.68" y="884.74" width="9" height="42.98" fill="#f0fff0"/><rect x="810.29" y="884.74" width="4.7" height="42.98" fill="#9dff9d"/><rect x="814.59" y="884.74" width="4.7" height="42.98" fill="#d9ffd9"/><rect x="818.89" y="884.74" width="4.7" height="42.98" fill="#bbffbb"/><rect x="823.19" y="884.74" width="4.7" height="42.98" fill="#ff9090"/><rect x="827.49" y="884.74" width="4.7" height="42.98" fill="#ffecec"/><rect x="831.79" y="884.74" width="4.7" height="42.98" fill="#f0fff0"/><rect x="836.1" y="884.74" width="9" height="42.98" fill="#d9ffd9"/><rect x="844.7" y="884.74" width="4.7" height="42.98" fill="#f0fff0"/><rect x="849" y="884.74" width="4.7" height="42.98" fill="#ffffff"/><rect x="853.3" y="884.74" width="4.7" height="42.98" fill="#d9ffd9"/><rect x="857.6" y="884.74" width="4.7" height="42.98" fill="#ffd0d0"/><rect x="861.9" y="884.74" width="4.7" height="42.98" fill="#d9ffd9"/><rect x="866.2" y="884.74" width="4.7" height="42.98" fill="#f0fff0"/><rect x="870.51" y="884.74" width="4.7" height="42.98" fill="#bbffbb"/><rect x="874.81" y="884.74" width="9" height="42.98" fill="#f0fff0"/><rect x="883.41" y="884.74" width="4.7" height="42.98" fill="#ffecec"/><rect x="887.71" y="884.74" width="4.7" height="42.98" fill="#d9ffd9"/><rect x="892.01" y="884.74" width="4.7" height="42.98" fill="#bbffbb"/><rect x="896.31" y="884.74" width="4.7" height="42.98" fill="#ffecec"/><rect x="900.61" y="884.74" width="4.7" height="42.98" fill="#bbffbb"/><rect x="904.92" y="884.74" width="4.7" height="42.98" fill="#d9ffd9"/><rect x="909.22" y="884.74" width="4.7" height="42.98" fill="#ffffff"/><rect x="913.52" y="884.74" width="4.7" height="42.98" fill="#d9ffd9"/><rect x="917.82" y="884.74" width="9" height="42.98" fill="#bbffbb"/><rect x="926.42" y="884.74" width="9" height="42.98" fill="#ffecec"/><rect x="935.03" y="884.74" width="9" height="42.98" fill="#bbffbb"/><rect x="943.63" y="884.74" width="4.7" height="42.98" fill="#d9ffd9"/><rect x="947.93" y="884.74" width="13.3" height="42.98" fill="#f0fff0"/><rect x="960.83" y="884.74" width="9" height="42.98" fill="#bbffbb"/><rect x="969.44" y="884.74" width="4.7" height="42.98" fill="#ffffff"/><rect x="973.74" y="884.74" width="13.3" height="42.98" fill="#bbffbb"/><rect x="986.64" y="884.74" width="4.7" height="42.98" fill="#d9ffd9"/><rect x="990.94" y="884.74" width="9" height="42.98" fill="#bbffbb"/><rect x="999.54" y="884.74" width="4.7" height="42.98" fill="#d9ffd9"/><rect x="1003.85" y="884.74" width="4.7" height="42.98" fill="#bbffbb"/><rect x="1008.15" y="884.74" width="9" height="42.98" fill="#d9ffd9"/><rect x="1016.75" y="884.74" width="4.7" height="42.98" fill="#bbffbb"/><rect x="1021.05" y="884.74" width="4.7" height="42.98" fill="#ffffff"/><rect x="1025.35" y="884.74" width="4.7" height="42.98" fill="#d9ffd9"/><rect x="1029.65" y="884.74" width="13.3" height="42.98" fill="#bbffbb"/><rect x="1042.56" y="884.74" width="13.3" height="42.98" fill="#d9ffd9"/><rect x="1055.46" y="884.74" width="4.7" height="42.98" fill="#bbffbb"/><rect x="1059.76" y="884.74" width="4.7" height="42.98" fill="#ffecec"/><rect x="1064.06" y="884.74" width="13.3" height="42.98" fill="#bbffbb"/><rect x="1076.97" y="884.74" width="4.7" height="42.98" fill="#f0fff0"/><rect x="1081.27" y="884.74" width="13.3" height="42.98" fill="#bbffbb"/><rect x="1094.17" y="884.74" width="4.7" height="42.98" fill="#d9ffd9"/><rect x="1098.47" y="884.74" width="47.71" height="42.98" fill="#bbffbb"/><rect x="1145.79" y="884.74" width="4.7" height="42.98" fill="#d9ffd9"/><rect x="1150.09" y="884.74" width="21.91" height="42.98" fill="#bbffbb"/><rect x="1171.6" y="884.74" width="4.7" height="42.98" fill="#d9ffd9"/><rect x="1175.9" y="884.74" width="9" height="42.98" fill="#bbffbb"/>
<rect x="186.6" y="927.32" width="30.51" height="42.98" fill="#ff2626"/><rect x="216.71" y="927.32" width="4.7" height="42.98" fill="#bbffbb"/><rect x="221.01" y="927.32" width="4.7" height="42.98" fill="#ff2626"/><rect x="225.31" y="927.32" width="4.7" height="42.98" fill="#ff9090"/><rect x="229.61" y="927.32" width="4.7" height="42.98" fill="#ff2626"/><rect x="233.91" y="927.32" width="4.7" height="42.98" fill="#ff0000"/><rect x="238.22" y="927.32" width="4.7" height="42.98" fill="#ff6a6a"/><rect x="242.52" y="927.32" width="4.7" height="42.98" fill="#ff9090"/><rect x="246.82" y="927.32" width="9" height="42.98" fill="#bbffbb"/><rect x="255.42" y="927.32" width="4.7" height="42.98" fill="#ff2626"/><rect x="259.72" y="927.32" width="4.7" height="42.98" fill="#ff9090"/><rect x="264.02" y="927.32" width="4.7" height="42.98" fill="#bbffbb"/><rect x="268.32" y="927.32" width="4.7" height="42.98" fill="#d9ffd9"/><rect x="272.63" y="927.32" width="9" height="42.98" fill="#ffb2b2"/><rect x="281.23" y="927.32" width="4.7" height="42.98" fill="#ff9090"/><rect x="285.53" y="927.32" width="9" height="42.98" fill="#ffd0d0"/><rect x="294.13" y="927.32" width="4.7" height="42.98" fill="#ff2626"/><rect x="298.43" y="927.32" width="4.7" height="42.98" fill="#ffb2b2"/><rect x="302.73" y="927.32" width="4.7" height="42.98" fill="#ffecec"/><rect x="307.04" y="927.32" width="4.7" height="42.98" fill="#ffd0d0"/><rect x="311.34" y="927.32" width="4.7" height="42.98" fill="#ffecec"/><rect x="315.64" y="927.32" width="4.7" height="42.98" fill="#f0fff0"/><rect x="319.94" y="927.32" width="4.7" height="42.98" fill="#ff2626"/><rect x="324.24" y="927.32" width="4.7" height="42.98" fill="#ffffff"/><rect x="328.54" y="927.32" width="9" height="42.98" fill="#ffb2b2"/><rect x="337.15" y="927.32" width="4.7" height="42.98" fill="#ffffff"/><rect x="341.45" y="927.32" width="9" height="42.98" fill="#ffecec"/><rect x="350.05" y="927.32" width="4.7" height="42.98" fill="#ff6a6a"/><rect x="354.35" y="927.32" width="4.7" height="42.98" fill="#f0fff0"/><rect x="358.65" y="927.32" width="17.61" height="42.98" fill="#ff9090"/><rect x="375.86" y="927.32" width="4.7" height="42.98" fill="#ffd0d0"/><rect x="380.16" y="927.32" width="4.7" height="42.98" fill="#bbffbb"/><rect x="384.46" y="927.32" width="9" height="42.98" fill="#ffb2b2"/><rect x="393.06" y="927.32" width="4.7" height="42.98" fill="#ffd0d0"/><rect x="397.36" y="927.32" width="4.7" height="42.98" fill="#ffb2b2"/><rect x="401.66" y="927.32" width="4.7" height="42.98" fill="#ffecec"/><rect x="405.97" y="927.32" width="4.7" height="42.98" fill="#ffd0d0"/><rect x="410.27" y="927.32" width="4.7" height="42.98" fill="#d9ffd9"/><rect x="414.57" y="927.32" width="9" height="42.98" fill="#ffd0d0"/><rect x="423.17" y="927.32" width="4.7" height="42.98" fill="#ffffff"/><rect x="427.47" y="927.32" width="4.7" height="42.98" fill="#ffb2b2"/><rect x="431.77" y="927.32" width="9" height="42.98" fill="#ffd0d0"/><rect x="440.38" y="927.32" width="4.7" height="42.98" fill="#bbffbb"/><rect x="444.68" y="927.32" width="4.7" height="42.98" fill="#ff9090"/><rect x="448.98" y="927.32" width="4.7" height="42.98" fill="#ffecec"/><rect x="453.28" y="927.32" width="4.7" height="42.98" fill="#f0fff0"/><rect x="457.58" y="927.32" width="4.7" height="42.98" fill="#d9ffd9"/><rect x="461.88" y="927.32" width="4.7" height="42.98" fill="#ffb2b2"/><rect x="466.18" y="927.32" width="4.7" height="42.98" fill="#ffecec"/><rect x="470.49" y="927.32" width="4.7" height="42.98" fill="#9dff9d"/><rect x="474.79" y="927.32" width="4.7" height="42.98" fill="#ffb2b2"/><rect x="479.09" y="927.32" width="4.7" height="42.98" fill="#f0fff0"/><rect x="483.39" y="927.32" width="13.3" height="42.98" fill="#bbffbb"/><rect x="496.29" y="927.32" width="4.7" height="42.98" fill="#d9ffd9"/><rect x="500.59" y="927.32" width="4.7" height="42.98" fill="#ffecec"/><rect x="504.9" y="927.32" width="4.7" height="42.98" fill="#f0fff0"/><rect x="509.2" y="927.32" width="4.7" height="42.98" fill="#ffb2b2"/><rect x="513.5" y="927.32" width="4.7" height="42.98" fill="#ffffff"/><rect x="517.8" y="927.32" width="4.7" height="42.98" fill="#d9ffd9"/><rect x="522.1" y="927.32" width="4.7" height="42.98" fill="#ffd0d0"/><rect x="526.4" y="927.32" width="4.7" height="42.98" fill="#d9ffd9"/><rect x="530.7" y="927.32" width="9" height="42.98" fill="#ffecec"/><rect x="539.31" y="927.32" width="9" height="42.98" fill="#bbffbb"/><rect x="547.91" y="927.32" width="4.7" height="42.98" fill="#ffecec"/><rect x="552.21" y="927.32" width="4.7" height="42.98" fill="#d9ffd9"/><rect x="556.51" y="927.32" width="4.7" height="42.98" fill="#ffd0d0"/><rect x="560.81" y="927.32" width="4.7" height="42.98" fill="#f0fff0"/><rect x="565.11" y="927.32" width="4.7" height="42.98" fill="#ffb2b2"/><rect x="569.42" y="927.32" width="4.7" height="42.98" fill="#d9ffd9"/><rect x="573.72" y="927.32" width="4.7" height="42.98" fill="#ffb2b2"/><rect x="578.02" y="927.32" width="9" height="42.98" fill="#ffd0d0"/><rect x="586.62" y="927.32" width="4.7" height="42.98" fill="#ffecec"/><rect x="590.92" y="927.32" width="4.7" height="42.98" fill="#bbffbb"/><rect x="595.22" y="927.32" width="4.7" height="42.98" fill="#ffffff"/><rect x="599.52" y="927.32" width="4.7" height="42.98" fill="#ffd0d0"/><rect x="603.83" y="927.32" width="4.7" height="42.98" fill="#d9ffd9"/><rect x="608.13" y="927.32" width="4.7" height="42.98" fill="#bbffbb"/><rect x="612.43" y="927.32" width="4.7" height="42.98" fill="#d9ffd9"/><rect x="616.73" y="927.32" width="4.7" height="42.98" fill="#bbffbb"/><rect x="621.03" y="927.32" width="4.7" height="42.98" fill="#ffffff"/><rect x="625.33" y="927.32" width="4.7" height="42.98" fill="#ffb2b2"/><rect x="629.63" y="927.32" width="4.7" height="42.98" fill="#d9ffd9"/><rect x="633.93" y="927.32" width="9" height="42.98" fill="#bbffbb"/><rect x="642.54" y="927.32" width="4.7" height="42.98" fill="#ffffff"/><rect x="646.84" y="927.32" width="4.7" height="42.98" fill="#9dff9d"/><rect x="651.14" y="927.32" width="4.7" height="42.98" fill="#ffd0d0"/><rect x="655.44" y="927.32" width="9" height="42.98" fill="#ffffff"/><rect x="664.04" y="927.32" width="4.7" height="42.98" fill="#f0fff0"/><rect x="668.34" y="927.32" width="9" height="42.98" fill="#ffecec"/><rect x="676.95" y="927.32" width="4.7" height="42.98" fill="#ffd0d0"/><rect x="681.25" y="927.32" width="4.7" height="42.98" fill="#ff9090"/><rect x="685.55" y="927.32" width="4.7" height="42.98" fill="#d9ffd9"/><rect x="689.85" y="927.32" width="4.7" height="42.98" fill="#ffd0d0"/><rect x="694.15" y="927.32" width="13.3" height="42.98" fill="#d9ffd9"/><rect x="707.06" y="927.32" width="4.7" height="42.98" fill="#bbffbb"/><rect x="711.36" y="927.32" width="9" height="42.98" fill="#d9ffd9"/><rect x="719.96" y="927.32" width="9" height="42.98" fill="#f0fff0"/><rect x="728.56" y="927.32" width="4.7" height="42.98" fill="#ffb2b2"/><rect x="732.86" y="927.32" width="21.91" height="42.98" fill="#bbffbb"/><rect x="754.37" y="927.32" width="4.7" height="42.98" fill="#ffecec"/><rect x="758.67" y="927.32" width="4.7" height="42.98" fill="#d9ffd9"/><rect x="762.97" y="927.32" width="13.3" height="42.98" fill="#bbffbb"/><rect x="775.88" y="927.32" width="9" height="42.98" fill="#ffffff"/><rect x="784.48" y="927.32" width="4.7" height="42.98" fill="#d9ffd9"/><rect x="788.78" y="927.32" width="4.7" height="42.98" fill="#ffffff"/><rect x="793.08" y="927.32" width="9" height="42.98" fill="#bbffbb"/><rect x="801.68" y="927.32" width="4.7" height="42.98" fill="#f0fff0"/><rect x="805.99" y="927.32" width="4.7" height="42.98" fill="#9dff9d"/><rect x="810.29" y="927.32" width="9" height="42.98" fill="#d9ffd9"/><rect x="818.89" y="927.32" width="4.7" height="42.98" fill="#ffd0d0"/><rect x="823.19" y="927.32" width="4.7" height="42.98" fill="#bbffbb"/><rect x="827.49" y="927.32" width="9" height="42.98" fill="#d9ffd9"/><rect x="836.1" y="927.32" width="4.7" height="42.98" fill="#ffffff"/><rect x="840.4" y="927.32" width="13.3" height="42.98" fill="#bbffbb"/><rect x="853.3" y="927.32" width="4.7" height="42.98" fill="#d9ffd9"/><rect x="857.6" y="927.32" width="4.7" height="42.98" fill="#bbffbb"/><rect x="861.9" y="927.32" width="9" height="42.98" fill="#f0fff0"/><rect x="870.51" y="927.32" width="4.7" height="42.98" fill="#ffffff"/><rect x="874.81" y="927.32" width="4.7" height="42.98" fill="#f0fff0"/><rect x="879.11" y="927.32" width="13.3" height="42.98" fill="#bbffbb"/><rect x="892.01" y="927.32" width="13.3" height="42.98" fill="#d9ffd9"/><rect x="904.92" y="927.32" width="13.3" height="42.98" fill="#bbffbb"/><rect x="917.82" y="927.32" width="4.7" height="42.98" fill="#d9ffd9"/><rect x="922.12" y="927.32" width="9" height="42.98" fill="#bbffbb"/><rect x="930.72" y="927.32" width="4.7" height="42.98" fill="#9dff9d"/><rect x="935.03" y="927.32" width="9" height="42.98" fill="#d9ffd9"/><rect x="943.63" y="927.32" width="9" height="42.98" fill="#bbffbb"/><rect x="952.23" y="927.32" width="9" height="42.98" fill="#f0fff0"/><rect x="960.83" y="927.32" width="9" height="42.98" fill="#d9ffd9"/><rect x="969.44" y="927.32" width="4.7" height="42.98" fill="#bbffbb"/><rect x="973.74" y="927.32" width="13.3" height="42.98" fill="#d9ffd9"/><rect x="986.64" y="927.32" width="4.7" height="42.98" fill="#f0fff0"/><rect x="990.94" y="927.32" width="4.7" height="42.98" fill="#bbffbb"/><rect x="995.24" y="927.32" width="4.7" height="42.98" fill="#d9ffd9"/><rect x="999.54" y="927.32" width="13.3" height="42.98" fill="#bbffbb"/><rect x="1012.45" y="927.32" width="4.7" height="42.98" fill="#d9ffd9"/><rect x="1016.75" y="927.32" width="4.7" height="42.98" fill="#bbffbb"/><rect x="1021.05" y="927.32" width="4.7" height="42.98" fill="#9dff9d"/><rect x="1025.35" y="927.32" width="21.91" height="42.98" fill="#bbffbb"/><rect x="1046.86" y="927.32" width="4.7" height="42.98" fill="#9dff9d"/><rect x="1051.16" y="927.32" width="9" height="42.98" fill="#bbffbb"/><rect x="1059.76" y="927.32" width="4.7" height="42.98" fill="#9dff9d"/><rect x="1064.06" y="927.32" width="13.3" height="42.98" fill="#bbffbb"/><rect x="1076.97" y="927.32" width="4.7" height="42.98" fill="#9dff9d"/><rect x="1081.27" y="927.32" width="13.3" height="42.98" fill="#d9ffd9"/><rect x="1094.17" y="927.32" width="4.7" height="42.98" fill="#bbffbb"/><rect x="1098.47" y="927.32" width="4.7" height="42.98" fill="#f0fff0"/><rect x="1102.78" y="927.32" width="39.11" height="42.98" fill="#bbffbb"/><rect x="1141.49" y="927.32" width="4.7" height="42.98" fill="#d9ffd9"/><rect x="1145.79" y="927.32" width="39.11" height="42.98" fill="#bbffbb"/>
</g>
<text font-size="24.05" text-anchor="end" x="167.3" y="791.5">RP11−474D1.3</text><text font-size="24.05" text-anchor="end" x="167.3" y="833.9">RP11−180M15.7</text><text font-size="24.05" text-anchor="end" x="167.3" y="876.4">RP11−197N18.2</text><text font-size="24.05" text-anchor="end" x="167.3" y="918.8">AC021188.4</text><text font-size="24.05" text-anchor="end" x="167.3" y="961.3">RP11−347C18.5</text>
<defs><linearGradient id="lg" x1="0" y1="0" x2="0" y2="1"><stop offset="0" stop-color="#f00"/><stop offset="0.5" stop-color="#fff"/><stop offset="1" stop-color="#0f0"/></linearGradient></defs>
<rect x="1197.6" y="761.2" width="23.9" height="204.4" fill="url(#lg)"/>
<text font-size="15" x="1230.4" y="766.3">3</text><text font-size="15" x="1230.4" y="800.37">2</text><text font-size="15" x="1230.4" y="834.43">1</text><text font-size="15" x="1230.4" y="868.5">0</text><text font-size="15" x="1230.4" y="902.57">−1</text><text font-size="15" x="1230.4" y="936.63">−2</text><text font-size="15" x="1230.4" y="970.7">−3</text>
</g>
</svg>
</body></html>
